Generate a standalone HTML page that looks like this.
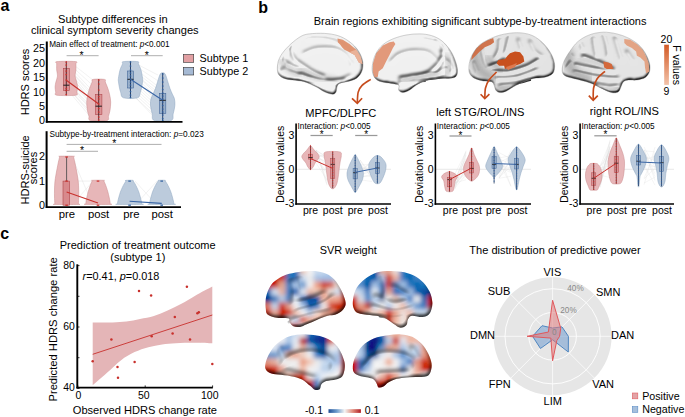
<!DOCTYPE html><html><head><meta charset="utf-8"><style>html,body{margin:0;padding:0;background:#fff;overflow:hidden}svg{display:block}</style></head><body>
<svg width="685" height="417" viewBox="0 0 685 417" font-family='"Liberation Sans", sans-serif'>
<rect width="685" height="417" fill="#fff"/>
<text x="0.5" y="10.6" font-size="16" text-anchor="start" fill="#000" font-weight="bold" >a</text>
<text x="258.3" y="12.6" font-size="16" text-anchor="start" fill="#000" font-weight="bold" >b</text>
<text x="0.3" y="239.4" font-size="16" text-anchor="start" fill="#000" font-weight="bold" >c</text>
<text x="112.8" y="23.0" font-size="11.1" text-anchor="middle" fill="#000" font-weight="normal" >Subtype differences in</text>
<text x="114.8" y="34.3" font-size="11.1" text-anchor="middle" fill="#000" font-weight="normal" >clinical symptom severity changes</text>
<line x1="72" y1="63.58" x2="94" y2="80.836" stroke="#d9d9d9" stroke-width="0.35"/>
<line x1="72" y1="66.45599999999999" x2="94" y2="86.588" stroke="#d9d9d9" stroke-width="0.35"/>
<line x1="72" y1="69.332" x2="94" y2="92.34" stroke="#d9d9d9" stroke-width="0.35"/>
<line x1="72" y1="72.208" x2="94" y2="95.216" stroke="#d9d9d9" stroke-width="0.35"/>
<line x1="72" y1="72.208" x2="94" y2="98.092" stroke="#d9d9d9" stroke-width="0.35"/>
<line x1="72" y1="75.084" x2="94" y2="100.96799999999999" stroke="#d9d9d9" stroke-width="0.35"/>
<line x1="72" y1="77.96" x2="94" y2="103.844" stroke="#d9d9d9" stroke-width="0.35"/>
<line x1="72" y1="77.96" x2="94" y2="103.844" stroke="#d9d9d9" stroke-width="0.35"/>
<line x1="72" y1="80.836" x2="94" y2="106.72" stroke="#d9d9d9" stroke-width="0.35"/>
<line x1="72" y1="83.71199999999999" x2="94" y2="106.72" stroke="#d9d9d9" stroke-width="0.35"/>
<line x1="72" y1="86.588" x2="94" y2="109.59599999999999" stroke="#d9d9d9" stroke-width="0.35"/>
<line x1="72" y1="86.588" x2="94" y2="112.472" stroke="#d9d9d9" stroke-width="0.35"/>
<line x1="72" y1="89.464" x2="94" y2="112.472" stroke="#d9d9d9" stroke-width="0.35"/>
<line x1="72" y1="92.34" x2="94" y2="115.348" stroke="#d9d9d9" stroke-width="0.35"/>
<line x1="72" y1="92.34" x2="94" y2="118.22399999999999" stroke="#d9d9d9" stroke-width="0.35"/>
<line x1="72" y1="95.216" x2="94" y2="121.1" stroke="#d9d9d9" stroke-width="0.35"/>
<line x1="136" y1="63.58" x2="158" y2="75.084" stroke="#d9d9d9" stroke-width="0.35"/>
<line x1="136" y1="66.45599999999999" x2="158" y2="80.836" stroke="#d9d9d9" stroke-width="0.35"/>
<line x1="136" y1="69.332" x2="158" y2="86.588" stroke="#d9d9d9" stroke-width="0.35"/>
<line x1="136" y1="72.208" x2="158" y2="89.464" stroke="#d9d9d9" stroke-width="0.35"/>
<line x1="136" y1="75.084" x2="158" y2="92.34" stroke="#d9d9d9" stroke-width="0.35"/>
<line x1="136" y1="75.084" x2="158" y2="95.216" stroke="#d9d9d9" stroke-width="0.35"/>
<line x1="136" y1="77.96" x2="158" y2="98.092" stroke="#d9d9d9" stroke-width="0.35"/>
<line x1="136" y1="80.836" x2="158" y2="100.96799999999999" stroke="#d9d9d9" stroke-width="0.35"/>
<line x1="136" y1="80.836" x2="158" y2="100.96799999999999" stroke="#d9d9d9" stroke-width="0.35"/>
<line x1="136" y1="83.71199999999999" x2="158" y2="103.844" stroke="#d9d9d9" stroke-width="0.35"/>
<line x1="136" y1="86.588" x2="158" y2="106.72" stroke="#d9d9d9" stroke-width="0.35"/>
<line x1="136" y1="89.464" x2="158" y2="109.59599999999999" stroke="#d9d9d9" stroke-width="0.35"/>
<line x1="136" y1="92.34" x2="158" y2="112.472" stroke="#d9d9d9" stroke-width="0.35"/>
<line x1="136" y1="95.216" x2="158" y2="115.348" stroke="#d9d9d9" stroke-width="0.35"/>
<line x1="136" y1="98.092" x2="158" y2="118.22399999999999" stroke="#d9d9d9" stroke-width="0.35"/>
<line x1="136" y1="98.092" x2="158" y2="121.1" stroke="#d9d9d9" stroke-width="0.35"/>
<path d="M75.50,61.60 C78.63,62.00 75.83,62.60 75.90,64.00 C75.97,65.40 76.03,68.00 75.90,70.00 C75.77,72.00 74.97,74.00 75.10,76.00 C75.23,78.00 76.30,80.17 76.70,82.00 C77.10,83.83 77.47,85.33 77.50,87.00 C77.53,88.67 77.20,90.63 76.90,92.00 C76.60,93.37 79.03,94.67 75.70,95.20 C72.37,95.73 60.23,95.73 56.90,95.20 C53.57,94.67 56.00,93.37 55.70,92.00 C55.40,90.63 55.07,88.67 55.10,87.00 C55.13,85.33 55.50,83.83 55.90,82.00 C56.30,80.17 57.37,78.00 57.50,76.00 C57.63,74.00 56.83,72.00 56.70,70.00 C56.57,68.00 56.63,65.40 56.70,64.00 C56.77,62.60 53.97,62.00 57.10,61.60 C60.23,61.20 72.37,61.20 75.50,61.60Z" fill="#e7b6b8" stroke="#c98a8d" stroke-width="0.5"/>
<path d="M104.50,79.40 C106.57,79.83 104.73,80.47 105.30,82.00 C105.87,83.53 107.17,86.43 107.90,88.60 C108.63,90.77 109.23,92.77 109.70,95.00 C110.17,97.23 110.65,99.43 110.70,102.00 C110.75,104.57 110.37,108.07 110.00,110.40 C109.63,112.73 109.02,114.32 108.50,116.00 C107.98,117.68 109.90,119.75 106.90,120.50 C103.90,121.25 93.50,121.25 90.50,120.50 C87.50,119.75 89.42,117.68 88.90,116.00 C88.38,114.32 87.77,112.73 87.40,110.40 C87.03,108.07 86.65,104.57 86.70,102.00 C86.75,99.43 87.23,97.23 87.70,95.00 C88.17,92.77 88.77,90.77 89.50,88.60 C90.23,86.43 91.53,83.53 92.10,82.00 C92.67,80.47 90.83,79.83 92.90,79.40 C94.97,78.97 102.43,78.97 104.50,79.40Z" fill="#e7b6b8" stroke="#c98a8d" stroke-width="0.5"/>
<path d="M137.50,61.60 C140.00,62.00 137.92,62.60 138.50,64.00 C139.08,65.40 140.32,67.58 141.00,70.00 C141.68,72.42 142.35,76.50 142.60,78.50 C142.85,80.50 142.68,80.42 142.50,82.00 C142.32,83.58 141.85,86.33 141.50,88.00 C141.15,89.67 141.05,90.37 140.40,92.00 C139.75,93.63 140.43,96.83 137.60,97.80 C134.77,98.77 126.23,98.77 123.40,97.80 C120.57,96.83 121.25,93.63 120.60,92.00 C119.95,90.37 119.85,89.67 119.50,88.00 C119.15,86.33 118.68,83.58 118.50,82.00 C118.32,80.42 118.15,80.50 118.40,78.50 C118.65,76.50 119.32,72.42 120.00,70.00 C120.68,67.58 121.92,65.40 122.50,64.00 C123.08,62.60 121.00,62.00 123.50,61.60 C126.00,61.20 135.00,61.20 137.50,61.60Z" fill="#bccbdc" stroke="#8ea6c0" stroke-width="0.5"/>
<path d="M164.30,73.10 C165.12,73.58 165.40,74.52 166.00,76.00 C166.60,77.48 167.23,79.90 167.90,82.00 C168.57,84.10 169.27,86.60 170.00,88.60 C170.73,90.60 171.57,92.33 172.30,94.00 C173.03,95.67 173.97,96.70 174.40,98.60 C174.83,100.50 175.10,102.87 174.90,105.40 C174.70,107.93 173.83,111.28 173.20,113.80 C172.57,116.32 174.25,119.38 171.10,120.50 C167.95,121.62 157.45,121.62 154.30,120.50 C151.15,119.38 152.83,116.32 152.20,113.80 C151.57,111.28 150.70,107.93 150.50,105.40 C150.30,102.87 150.57,100.50 151.00,98.60 C151.43,96.70 152.37,95.67 153.10,94.00 C153.83,92.33 154.67,90.60 155.40,88.60 C156.13,86.60 156.83,84.10 157.50,82.00 C158.17,79.90 158.80,77.48 159.40,76.00 C160.00,74.52 160.28,73.58 161.10,73.10 C161.92,72.62 163.48,72.62 164.30,73.10Z" fill="#bccbdc" stroke="#8ea6c0" stroke-width="0.5"/>
<rect x="63.3" y="68.4" width="6" height="22.19999999999999" fill="#d8898c" stroke="#b0474b" stroke-width="0.6" fill-opacity="0.8"/>
<line x1="66.3" y1="61.6" x2="66.3" y2="95.3" stroke="#4a2326" stroke-width="0.9"/>
<line x1="63.3" y1="85.2" x2="69.3" y2="85.2" stroke="#222" stroke-width="1"/>
<circle cx="66.3" cy="62" r="0.85" fill="#cc2d2a"/>
<circle cx="66.3" cy="65" r="0.85" fill="#cc2d2a"/>
<circle cx="66.3" cy="71" r="0.85" fill="#cc2d2a"/>
<circle cx="66.3" cy="74.5" r="0.85" fill="#cc2d2a"/>
<circle cx="66.3" cy="80" r="0.85" fill="#cc2d2a"/>
<circle cx="66.3" cy="88.5" r="0.85" fill="#cc2d2a"/>
<circle cx="66.3" cy="90.5" r="0.85" fill="#cc2d2a"/>
<circle cx="66.3" cy="94.5" r="0.85" fill="#cc2d2a"/>
<rect x="95.5" y="94.5" width="6.4" height="20.099999999999994" fill="#d8898c" stroke="#b0474b" stroke-width="0.6" fill-opacity="0.8"/>
<line x1="98.7" y1="79.4" x2="98.7" y2="120.5" stroke="#4a2326" stroke-width="0.9"/>
<line x1="95.5" y1="106.2" x2="101.9" y2="106.2" stroke="#222" stroke-width="1"/>
<circle cx="98.7" cy="80" r="0.85" fill="#cc2d2a"/>
<circle cx="98.7" cy="84" r="0.85" fill="#cc2d2a"/>
<circle cx="98.7" cy="90" r="0.85" fill="#cc2d2a"/>
<circle cx="98.7" cy="96.5" r="0.85" fill="#cc2d2a"/>
<circle cx="98.7" cy="99" r="0.85" fill="#cc2d2a"/>
<circle cx="98.7" cy="104" r="0.85" fill="#cc2d2a"/>
<circle cx="98.7" cy="108.5" r="0.85" fill="#cc2d2a"/>
<circle cx="98.7" cy="112" r="0.85" fill="#cc2d2a"/>
<circle cx="98.7" cy="117" r="0.85" fill="#cc2d2a"/>
<circle cx="98.7" cy="120" r="0.85" fill="#cc2d2a"/>
<rect x="127.5" y="71" width="6" height="17" fill="#8fa8c6" stroke="#44689a" stroke-width="0.6" fill-opacity="0.8"/>
<line x1="130.5" y1="61.6" x2="130.5" y2="97.8" stroke="#1e3358" stroke-width="0.9"/>
<line x1="127.5" y1="79.3" x2="133.5" y2="79.3" stroke="#222" stroke-width="1"/>
<circle cx="130.5" cy="62" r="0.85" fill="#2f5f9e"/>
<circle cx="130.5" cy="66" r="0.85" fill="#2f5f9e"/>
<circle cx="130.5" cy="70" r="0.85" fill="#2f5f9e"/>
<circle cx="130.5" cy="73" r="0.85" fill="#2f5f9e"/>
<circle cx="130.5" cy="76" r="0.85" fill="#2f5f9e"/>
<circle cx="130.5" cy="79" r="0.85" fill="#2f5f9e"/>
<circle cx="130.5" cy="82" r="0.85" fill="#2f5f9e"/>
<circle cx="130.5" cy="85" r="0.85" fill="#2f5f9e"/>
<circle cx="130.5" cy="88" r="0.85" fill="#2f5f9e"/>
<circle cx="130.5" cy="91.5" r="0.85" fill="#2f5f9e"/>
<circle cx="130.5" cy="95" r="0.85" fill="#2f5f9e"/>
<circle cx="130.5" cy="97.5" r="0.85" fill="#2f5f9e"/>
<rect x="159.6" y="93.3" width="6.2" height="20.10000000000001" fill="#8fa8c6" stroke="#44689a" stroke-width="0.6" fill-opacity="0.8"/>
<line x1="162.7" y1="73.1" x2="162.7" y2="121" stroke="#1e3358" stroke-width="0.9"/>
<line x1="159.6" y1="100.3" x2="165.79999999999998" y2="100.3" stroke="#222" stroke-width="1"/>
<circle cx="162.7" cy="74" r="0.85" fill="#2f5f9e"/>
<circle cx="162.7" cy="78" r="0.85" fill="#2f5f9e"/>
<circle cx="162.7" cy="82" r="0.85" fill="#2f5f9e"/>
<circle cx="162.7" cy="86" r="0.85" fill="#2f5f9e"/>
<circle cx="162.7" cy="89.5" r="0.85" fill="#2f5f9e"/>
<circle cx="162.7" cy="93" r="0.85" fill="#2f5f9e"/>
<circle cx="162.7" cy="96" r="0.85" fill="#2f5f9e"/>
<circle cx="162.7" cy="99" r="0.85" fill="#2f5f9e"/>
<circle cx="162.7" cy="102" r="0.85" fill="#2f5f9e"/>
<circle cx="162.7" cy="105.5" r="0.85" fill="#2f5f9e"/>
<circle cx="162.7" cy="109" r="0.85" fill="#2f5f9e"/>
<circle cx="162.7" cy="112" r="0.85" fill="#2f5f9e"/>
<circle cx="162.7" cy="115" r="0.85" fill="#2f5f9e"/>
<circle cx="162.7" cy="118.5" r="0.85" fill="#2f5f9e"/>
<circle cx="162.7" cy="120.5" r="0.85" fill="#2f5f9e"/>
<line x1="66.3" y1="80.2" x2="98.7" y2="104" stroke="#c8302c" stroke-width="1.1"/>
<line x1="130.5" y1="79.3" x2="162.7" y2="100.3" stroke="#3a66a6" stroke-width="1.1"/>
<line x1="66.6" y1="55.7" x2="98.6" y2="55.7" stroke="#999" stroke-width="0.8"/>
<line x1="131" y1="55.7" x2="162.7" y2="55.7" stroke="#999" stroke-width="0.8"/>
<text x="81.5" y="58.6" font-size="10.5" text-anchor="middle" fill="#000" font-weight="normal" >*</text>
<text x="146.8" y="58.6" font-size="10.5" text-anchor="middle" fill="#000" font-weight="normal" >*</text>
<line x1="46.8" y1="41.5" x2="46.8" y2="122.6" stroke="#000" stroke-width="2"/>
<line x1="45.8" y1="121.8" x2="182.5" y2="121.8" stroke="#000" stroke-width="1.8"/>
<text x="44.9" y="124.3" font-size="10.8" text-anchor="end" fill="#000" font-weight="normal" >0</text>
<text x="44.9" y="109.92" font-size="10.8" text-anchor="end" fill="#000" font-weight="normal" >5</text>
<text x="44.9" y="95.54" font-size="10.8" text-anchor="end" fill="#000" font-weight="normal" >10</text>
<text x="44.9" y="81.16" font-size="10.8" text-anchor="end" fill="#000" font-weight="normal" >15</text>
<text x="44.9" y="66.78" font-size="10.8" text-anchor="end" fill="#000" font-weight="normal" >20</text>
<text x="44.9" y="52.400000000000006" font-size="10.8" text-anchor="end" fill="#000" font-weight="normal" >25</text>
<text transform="translate(29.2,82) rotate(-90)" font-size="11" text-anchor="middle">HDRS scores</text>
<text x="49.3" y="46.6" font-size="8.2">Main effect of treatment: <tspan font-style="italic">p</tspan>&lt;0.001</text>
<rect x="183.3" y="54.5" width="10.4" height="7.8" fill="#e2a0a3" stroke="#333" stroke-width="0.6"/>
<rect x="183.3" y="67.4" width="10.4" height="7.6" fill="#a6bad4" stroke="#333" stroke-width="0.6"/>
<text x="199.6" y="61.8" font-size="10.8" text-anchor="start" fill="#000" font-weight="normal" >Subtype 1</text>
<text x="199.6" y="74.6" font-size="10.8" text-anchor="start" fill="#000" font-weight="normal" >Subtype 2</text>
<line x1="72" y1="157.0" x2="93" y2="205.2" stroke="#ddd" stroke-width="0.4"/>
<line x1="72" y1="181.1" x2="93" y2="181.1" stroke="#ddd" stroke-width="0.4"/>
<line x1="72" y1="205.2" x2="93" y2="181.1" stroke="#ddd" stroke-width="0.4"/>
<line x1="135" y1="181.1" x2="157" y2="205.2" stroke="#ddd" stroke-width="0.4"/>
<line x1="135" y1="205.2" x2="157" y2="181.1" stroke="#ddd" stroke-width="0.4"/>
<path d="M73.40,156.20 C75.70,156.33 73.37,156.03 73.60,157.00 C73.83,157.97 74.38,160.08 74.80,162.00 C75.22,163.92 75.68,166.33 76.10,168.50 C76.52,170.67 76.93,172.78 77.30,175.00 C77.67,177.22 78.07,179.30 78.30,181.80 C78.53,184.30 78.63,187.47 78.70,190.00 C78.77,192.53 78.75,194.73 78.70,197.00 C78.65,199.27 78.48,202.37 78.40,203.60 C78.32,204.83 82.10,204.27 78.20,204.40 C74.30,204.53 58.90,204.53 55.00,204.40 C51.10,204.27 54.88,204.83 54.80,203.60 C54.72,202.37 54.55,199.27 54.50,197.00 C54.45,194.73 54.43,192.53 54.50,190.00 C54.57,187.47 54.67,184.30 54.90,181.80 C55.13,179.30 55.53,177.22 55.90,175.00 C56.27,172.78 56.68,170.67 57.10,168.50 C57.52,166.33 57.98,163.92 58.40,162.00 C58.82,160.08 59.37,157.97 59.60,157.00 C59.83,156.03 57.50,156.33 59.80,156.20 C62.10,156.07 71.10,156.07 73.40,156.20Z" fill="#e7b6b8" stroke="#c98a8d" stroke-width="0.5"/>
<path d="M103.60,180.30 C105.52,180.42 103.63,180.38 103.90,181.00 C104.17,181.62 104.77,182.92 105.20,184.00 C105.63,185.08 106.05,186.17 106.50,187.50 C106.95,188.83 107.47,190.42 107.90,192.00 C108.33,193.58 108.77,195.50 109.10,197.00 C109.43,198.50 109.72,199.87 109.90,201.00 C110.08,202.13 110.17,203.23 110.20,203.80 C110.23,204.37 114.15,204.30 110.10,204.40 C106.05,204.50 89.95,204.50 85.90,204.40 C81.85,204.30 85.77,204.37 85.80,203.80 C85.83,203.23 85.92,202.13 86.10,201.00 C86.28,199.87 86.57,198.50 86.90,197.00 C87.23,195.50 87.67,193.58 88.10,192.00 C88.53,190.42 89.05,188.83 89.50,187.50 C89.95,186.17 90.37,185.08 90.80,184.00 C91.23,182.92 91.83,181.62 92.10,181.00 C92.37,180.38 90.48,180.42 92.40,180.30 C94.32,180.18 101.68,180.18 103.60,180.30Z" fill="#e7b6b8" stroke="#c98a8d" stroke-width="0.5"/>
<path d="M132.80,180.30 C133.93,180.42 132.82,180.38 133.20,181.00 C133.58,181.62 134.48,182.92 135.10,184.00 C135.72,185.08 136.28,186.17 136.90,187.50 C137.52,188.83 138.23,190.42 138.80,192.00 C139.37,193.58 139.88,195.50 140.30,197.00 C140.72,198.50 141.05,199.87 141.30,201.00 C141.55,202.13 141.73,203.23 141.80,203.80 C141.87,204.37 145.75,204.30 141.70,204.40 C137.65,204.50 121.55,204.50 117.50,204.40 C113.45,204.30 117.33,204.37 117.40,203.80 C117.47,203.23 117.65,202.13 117.90,201.00 C118.15,199.87 118.48,198.50 118.90,197.00 C119.32,195.50 119.83,193.58 120.40,192.00 C120.97,190.42 121.68,188.83 122.30,187.50 C122.92,186.17 123.48,185.08 124.10,184.00 C124.72,182.92 125.62,181.62 126.00,181.00 C126.38,180.38 125.27,180.42 126.40,180.30 C127.53,180.18 131.67,180.18 132.80,180.30Z" fill="#bccbdc" stroke="#8ea6c0" stroke-width="0.5"/>
<path d="M164.90,180.30 C166.03,180.42 164.92,180.38 165.30,181.00 C165.68,181.62 166.58,182.92 167.20,184.00 C167.82,185.08 168.38,186.17 169.00,187.50 C169.62,188.83 170.33,190.42 170.90,192.00 C171.47,193.58 171.98,195.50 172.40,197.00 C172.82,198.50 173.15,199.87 173.40,201.00 C173.65,202.13 173.83,203.23 173.90,203.80 C173.97,204.37 177.85,204.30 173.80,204.40 C169.75,204.50 153.65,204.50 149.60,204.40 C145.55,204.30 149.43,204.37 149.50,203.80 C149.57,203.23 149.75,202.13 150.00,201.00 C150.25,199.87 150.58,198.50 151.00,197.00 C151.42,195.50 151.93,193.58 152.50,192.00 C153.07,190.42 153.78,188.83 154.40,187.50 C155.02,186.17 155.58,185.08 156.20,184.00 C156.82,182.92 157.72,181.62 158.10,181.00 C158.48,180.38 157.37,180.42 158.50,180.30 C159.63,180.18 163.77,180.18 164.90,180.30Z" fill="#bccbdc" stroke="#8ea6c0" stroke-width="0.5"/>
<line x1="66.6" y1="157.0" x2="66.6" y2="205.2" stroke="#444" stroke-width="0.8"/>
<rect x="63" y="181.1" width="6.6" height="24.099999999999994" fill="#d8898c" stroke="#b0474b" stroke-width="0.6"/>
<rect x="65.3" y="156.4" width="2.6" height="1.2" fill="#cc2d2a"/>
<rect x="65.3" y="180.5" width="2.6" height="1.2" fill="#cc2d2a"/>
<rect x="65.3" y="204.6" width="2.6" height="1.2" fill="#cc2d2a"/>
<rect x="96.7" y="180.5" width="2.6" height="1.2" fill="#cc2d2a"/>
<rect x="96.7" y="204.6" width="2.6" height="1.2" fill="#cc2d2a"/>
<rect x="128.29999999999998" y="180.5" width="2.6" height="1.2" fill="#2f5f9e"/>
<rect x="128.29999999999998" y="204.6" width="2.6" height="1.2" fill="#2f5f9e"/>
<rect x="160.39999999999998" y="180.5" width="2.6" height="1.2" fill="#2f5f9e"/>
<rect x="160.39999999999998" y="204.6" width="2.6" height="1.2" fill="#2f5f9e"/>
<line x1="66.6" y1="192" x2="98" y2="203" stroke="#c8302c" stroke-width="1.1"/>
<line x1="129.6" y1="201.3" x2="161.7" y2="203.4" stroke="#3a66a6" stroke-width="1.1"/>
<line x1="66.6" y1="144.4" x2="161.5" y2="144.4" stroke="#999" stroke-width="0.8"/>
<line x1="66.6" y1="151.3" x2="98" y2="151.3" stroke="#999" stroke-width="0.8"/>
<text x="114.3" y="147.3" font-size="10.5" text-anchor="middle" fill="#000" font-weight="normal" >*</text>
<text x="82" y="154.2" font-size="10.5" text-anchor="middle" fill="#000" font-weight="normal" >*</text>
<line x1="46.6" y1="131.2" x2="46.6" y2="208" stroke="#000" stroke-width="2"/>
<line x1="45.8" y1="207.2" x2="181" y2="207.2" stroke="#000" stroke-width="1.8"/>
<text x="44.9" y="208.6" font-size="10.8" text-anchor="end" fill="#000" font-weight="normal" >0</text>
<text x="44.9" y="184.5" font-size="10.8" text-anchor="end" fill="#000" font-weight="normal" >1</text>
<text x="44.9" y="160.4" font-size="10.8" text-anchor="end" fill="#000" font-weight="normal" >2</text>
<text transform="translate(29.4,169.9) rotate(-90)" font-size="11" text-anchor="middle">HDRS-suicide</text>
<text transform="translate(36.8,168) rotate(-90)" font-size="11" text-anchor="middle">scores</text>
<text x="49.4" y="136.5" font-size="8.25">Subtype-by-treatment interaction: <tspan font-style="italic">p</tspan>=0.023</text>
<text x="66.8" y="217.5" font-size="11.3" text-anchor="middle" fill="#000" font-weight="normal" >pre</text>
<text x="98.6" y="217.5" font-size="11.3" text-anchor="middle" fill="#000" font-weight="normal" >post</text>
<text x="131.5" y="217.5" font-size="11.3" text-anchor="middle" fill="#000" font-weight="normal" >pre</text>
<text x="162.2" y="217.5" font-size="11.3" text-anchor="middle" fill="#000" font-weight="normal" >post</text>
<text x="480.1" y="24.6" font-size="11" text-anchor="middle" fill="#000" font-weight="normal" >Brain regions exhibiting significant subtype-by-treatment interactions</text>
<line x1="296.1" y1="169.3" x2="391" y2="169.3" stroke="#e3e3e3" stroke-width="0.8"/>
<line x1="316" y1="154.50515700216377" x2="327" y2="157.0854647179383" stroke="#dcdcdc" stroke-width="0.3"/>
<line x1="316" y1="151.56443595671652" x2="327" y2="160.36688583203147" stroke="#dcdcdc" stroke-width="0.3"/>
<line x1="316" y1="160.06588604167752" x2="327" y2="173.70529633938446" stroke="#dcdcdc" stroke-width="0.3"/>
<line x1="316" y1="150.23141687334822" x2="327" y2="184.27439510108118" stroke="#dcdcdc" stroke-width="0.3"/>
<line x1="316" y1="158.10999407321373" x2="327" y2="172.04439730437747" stroke="#dcdcdc" stroke-width="0.3"/>
<line x1="316" y1="155.21671158751394" x2="327" y2="166.09045566347575" stroke="#dcdcdc" stroke-width="0.3"/>
<line x1="316" y1="149.98598172117002" x2="327" y2="185.21641848456636" stroke="#dcdcdc" stroke-width="0.3"/>
<line x1="316" y1="157.62640746422014" x2="327" y2="154.53722846038596" stroke="#dcdcdc" stroke-width="0.3"/>
<line x1="316" y1="149.63742619351373" x2="327" y2="181.32945914860642" stroke="#dcdcdc" stroke-width="0.3"/>
<line x1="316" y1="156.37197662226055" x2="327" y2="162.55710644894532" stroke="#dcdcdc" stroke-width="0.3"/>
<line x1="316" y1="150.18754220076852" x2="327" y2="157.76041775079543" stroke="#dcdcdc" stroke-width="0.3"/>
<line x1="316" y1="150.5421212268457" x2="327" y2="156.88714385658616" stroke="#dcdcdc" stroke-width="0.3"/>
<line x1="316" y1="156.21682621542274" x2="327" y2="163.17990019536384" stroke="#dcdcdc" stroke-width="0.3"/>
<line x1="316" y1="163.05648611942465" x2="327" y2="179.93216985096103" stroke="#dcdcdc" stroke-width="0.3"/>
<line x1="360" y1="163.783244157566" x2="372" y2="177.06510755653977" stroke="#dcdcdc" stroke-width="0.3"/>
<line x1="360" y1="176.61120523719893" x2="372" y2="174.77586640950972" stroke="#dcdcdc" stroke-width="0.3"/>
<line x1="360" y1="178.44523100563788" x2="372" y2="163.85831625733167" stroke="#dcdcdc" stroke-width="0.3"/>
<line x1="360" y1="169.9167213672234" x2="372" y2="171.7861690462081" stroke="#dcdcdc" stroke-width="0.3"/>
<line x1="360" y1="175.52782290270585" x2="372" y2="170.60471609147484" stroke="#dcdcdc" stroke-width="0.3"/>
<line x1="360" y1="160.00924719914633" x2="372" y2="179.0032998937623" stroke="#dcdcdc" stroke-width="0.3"/>
<line x1="360" y1="159.90723743891945" x2="372" y2="175.5066869465412" stroke="#dcdcdc" stroke-width="0.3"/>
<line x1="360" y1="164.59067881021844" x2="372" y2="164.91050635736448" stroke="#dcdcdc" stroke-width="0.3"/>
<line x1="360" y1="179.77279914181716" x2="372" y2="181.52419633982197" stroke="#dcdcdc" stroke-width="0.3"/>
<line x1="360" y1="171.6829537814209" x2="372" y2="160.8335786781191" stroke="#dcdcdc" stroke-width="0.3"/>
<line x1="360" y1="168.05270945205734" x2="372" y2="168.03494772284546" stroke="#dcdcdc" stroke-width="0.3"/>
<line x1="360" y1="176.73797963224445" x2="372" y2="176.17138230956598" stroke="#dcdcdc" stroke-width="0.3"/>
<line x1="360" y1="172.50190004386482" x2="372" y2="161.6476288318521" stroke="#dcdcdc" stroke-width="0.3"/>
<line x1="360" y1="167.59254389963783" x2="372" y2="169.73511441141935" stroke="#dcdcdc" stroke-width="0.3"/>
<path d="M311.10,145.90 C311.80,146.58 313.10,148.82 314.10,150.00 C315.10,151.18 316.25,151.92 317.10,153.00 C317.95,154.08 319.13,155.33 319.20,156.50 C319.27,157.67 318.20,158.92 317.50,160.00 C316.80,161.08 315.67,161.93 315.00,163.00 C314.33,164.07 314.15,165.35 313.50,166.40 C312.85,167.45 311.70,168.82 311.10,169.30 C310.50,169.78 310.50,169.78 309.90,169.30 C309.30,168.82 308.15,167.45 307.50,166.40 C306.85,165.35 306.67,164.07 306.00,163.00 C305.33,161.93 304.20,161.08 303.50,160.00 C302.80,158.92 301.73,157.67 301.80,156.50 C301.87,155.33 303.05,154.08 303.90,153.00 C304.75,151.92 305.90,151.18 306.90,150.00 C307.90,148.82 309.20,146.58 309.90,145.90 C310.60,145.22 310.40,145.22 311.10,145.90Z" fill="#e7b6b8" stroke="#c98a8d" stroke-width="0.5"/>
<path d="M339.70,151.90 C342.30,152.55 341.20,154.28 341.30,155.80 C341.40,157.32 340.60,159.23 340.30,161.00 C340.00,162.77 339.75,164.57 339.50,166.40 C339.25,168.23 339.02,170.23 338.80,172.00 C338.58,173.77 338.52,175.08 338.20,177.00 C337.88,178.92 337.57,181.63 336.90,183.50 C336.23,185.37 335.15,187.42 334.20,188.20 C333.25,188.98 332.15,188.98 331.20,188.20 C330.25,187.42 329.17,185.37 328.50,183.50 C327.83,181.63 327.52,178.92 327.20,177.00 C326.88,175.08 326.82,173.77 326.60,172.00 C326.38,170.23 326.15,168.23 325.90,166.40 C325.65,164.57 325.40,162.77 325.10,161.00 C324.80,159.23 324.00,157.32 324.10,155.80 C324.20,154.28 323.10,152.55 325.70,151.90 C328.30,151.25 337.10,151.25 339.70,151.90Z" fill="#e7b6b8" stroke="#c98a8d" stroke-width="0.5"/>
<path d="M355.80,155.20 C356.45,156.00 357.55,158.13 358.50,160.00 C359.45,161.87 360.68,164.23 361.50,166.40 C362.32,168.57 363.23,170.80 363.40,173.00 C363.57,175.20 363.20,177.40 362.50,179.60 C361.80,181.80 360.32,184.12 359.20,186.20 C358.08,188.28 356.57,191.12 355.80,192.10 C355.03,193.08 355.37,193.08 354.60,192.10 C353.83,191.12 352.32,188.28 351.20,186.20 C350.08,184.12 348.60,181.80 347.90,179.60 C347.20,177.40 346.83,175.20 347.00,173.00 C347.17,170.80 348.08,168.57 348.90,166.40 C349.72,164.23 350.95,161.87 351.90,160.00 C352.85,158.13 353.95,156.00 354.60,155.20 C355.25,154.40 355.15,154.40 355.80,155.20Z" fill="#bccbdc" stroke="#8ea6c0" stroke-width="0.5"/>
<path d="M378.90,155.80 C379.92,156.17 380.85,156.68 382.00,158.00 C383.15,159.32 385.20,161.65 385.80,163.70 C386.40,165.75 386.02,168.08 385.60,170.30 C385.18,172.52 384.12,175.02 383.30,177.00 C382.48,178.98 381.48,181.10 380.70,182.20 C379.92,183.30 379.35,183.37 378.60,183.60 C377.85,183.83 376.95,183.83 376.20,183.60 C375.45,183.37 374.88,183.30 374.10,182.20 C373.32,181.10 372.32,178.98 371.50,177.00 C370.68,175.02 369.62,172.52 369.20,170.30 C368.78,168.08 368.40,165.75 369.00,163.70 C369.60,161.65 371.65,159.32 372.80,158.00 C373.95,156.68 374.88,156.17 375.90,155.80 C376.92,155.43 377.88,155.43 378.90,155.80Z" fill="#bccbdc" stroke="#8ea6c0" stroke-width="0.5"/>
<rect x="308.4" y="154.2" width="4.2" height="4.900000000000006" fill="#d8898c" stroke="#b0474b" stroke-width="0.5" fill-opacity="0.8"/>
<line x1="310.5" y1="145.9" x2="310.5" y2="169.3" stroke="#4a2326" stroke-width="0.75"/>
<line x1="308.4" y1="157.5" x2="312.6" y2="157.5" stroke="#222" stroke-width="0.8"/>
<circle cx="310.5" cy="145.9" r="0.6" fill="#cc2d2a"/>
<circle cx="310.5" cy="148.5" r="0.6" fill="#cc2d2a"/>
<circle cx="310.5" cy="151.1" r="0.6" fill="#cc2d2a"/>
<circle cx="310.5" cy="153.7" r="0.6" fill="#cc2d2a"/>
<circle cx="310.5" cy="156.3" r="0.6" fill="#cc2d2a"/>
<circle cx="310.5" cy="158.9" r="0.6" fill="#cc2d2a"/>
<circle cx="310.5" cy="161.5" r="0.6" fill="#cc2d2a"/>
<circle cx="310.5" cy="164.1" r="0.6" fill="#cc2d2a"/>
<circle cx="310.5" cy="166.7" r="0.6" fill="#cc2d2a"/>
<circle cx="310.5" cy="169.3" r="0.6" fill="#cc2d2a"/>
<rect x="330.59999999999997" y="158.5" width="4.2" height="19.80000000000001" fill="#d8898c" stroke="#b0474b" stroke-width="0.5" fill-opacity="0.8"/>
<line x1="332.7" y1="151.9" x2="332.7" y2="188.2" stroke="#4a2326" stroke-width="0.75"/>
<line x1="330.59999999999997" y1="164.4" x2="334.8" y2="164.4" stroke="#222" stroke-width="0.8"/>
<circle cx="332.7" cy="151.9" r="0.6" fill="#cc2d2a"/>
<circle cx="332.7" cy="154.5" r="0.6" fill="#cc2d2a"/>
<circle cx="332.7" cy="157.1" r="0.6" fill="#cc2d2a"/>
<circle cx="332.7" cy="159.7" r="0.6" fill="#cc2d2a"/>
<circle cx="332.7" cy="162.3" r="0.6" fill="#cc2d2a"/>
<circle cx="332.7" cy="164.9" r="0.6" fill="#cc2d2a"/>
<circle cx="332.7" cy="167.5" r="0.6" fill="#cc2d2a"/>
<circle cx="332.7" cy="170.1" r="0.6" fill="#cc2d2a"/>
<circle cx="332.7" cy="172.7" r="0.6" fill="#cc2d2a"/>
<circle cx="332.7" cy="175.3" r="0.6" fill="#cc2d2a"/>
<circle cx="332.7" cy="177.9" r="0.6" fill="#cc2d2a"/>
<circle cx="332.7" cy="180.5" r="0.6" fill="#cc2d2a"/>
<circle cx="332.7" cy="183.1" r="0.6" fill="#cc2d2a"/>
<circle cx="332.7" cy="185.7" r="0.6" fill="#cc2d2a"/>
<rect x="353.09999999999997" y="168.4" width="4.2" height="10.5" fill="#8fa8c6" stroke="#44689a" stroke-width="0.5" fill-opacity="0.8"/>
<line x1="355.2" y1="155.2" x2="355.2" y2="192.1" stroke="#1e3358" stroke-width="0.75"/>
<line x1="353.09999999999997" y1="172.7" x2="357.3" y2="172.7" stroke="#222" stroke-width="0.8"/>
<circle cx="355.2" cy="155.2" r="0.6" fill="#2f5f9e"/>
<circle cx="355.2" cy="157.8" r="0.6" fill="#2f5f9e"/>
<circle cx="355.2" cy="160.4" r="0.6" fill="#2f5f9e"/>
<circle cx="355.2" cy="163.0" r="0.6" fill="#2f5f9e"/>
<circle cx="355.2" cy="165.6" r="0.6" fill="#2f5f9e"/>
<circle cx="355.2" cy="168.2" r="0.6" fill="#2f5f9e"/>
<circle cx="355.2" cy="170.8" r="0.6" fill="#2f5f9e"/>
<circle cx="355.2" cy="173.4" r="0.6" fill="#2f5f9e"/>
<circle cx="355.2" cy="176.0" r="0.6" fill="#2f5f9e"/>
<circle cx="355.2" cy="178.6" r="0.6" fill="#2f5f9e"/>
<circle cx="355.2" cy="181.2" r="0.6" fill="#2f5f9e"/>
<circle cx="355.2" cy="183.8" r="0.6" fill="#2f5f9e"/>
<circle cx="355.2" cy="186.4" r="0.6" fill="#2f5f9e"/>
<circle cx="355.2" cy="189.0" r="0.6" fill="#2f5f9e"/>
<circle cx="355.2" cy="191.6" r="0.6" fill="#2f5f9e"/>
<rect x="375.29999999999995" y="162.4" width="4.2" height="11.199999999999989" fill="#8fa8c6" stroke="#44689a" stroke-width="0.5" fill-opacity="0.8"/>
<line x1="377.4" y1="155.8" x2="377.4" y2="183.5" stroke="#1e3358" stroke-width="0.75"/>
<line x1="375.29999999999995" y1="168" x2="379.5" y2="168" stroke="#222" stroke-width="0.8"/>
<circle cx="377.4" cy="155.8" r="0.6" fill="#2f5f9e"/>
<circle cx="377.4" cy="158.4" r="0.6" fill="#2f5f9e"/>
<circle cx="377.4" cy="161.0" r="0.6" fill="#2f5f9e"/>
<circle cx="377.4" cy="163.6" r="0.6" fill="#2f5f9e"/>
<circle cx="377.4" cy="166.2" r="0.6" fill="#2f5f9e"/>
<circle cx="377.4" cy="168.8" r="0.6" fill="#2f5f9e"/>
<circle cx="377.4" cy="171.4" r="0.6" fill="#2f5f9e"/>
<circle cx="377.4" cy="174.0" r="0.6" fill="#2f5f9e"/>
<circle cx="377.4" cy="176.6" r="0.6" fill="#2f5f9e"/>
<circle cx="377.4" cy="179.2" r="0.6" fill="#2f5f9e"/>
<circle cx="377.4" cy="181.8" r="0.6" fill="#2f5f9e"/>
<line x1="310.5" y1="158.5" x2="332.7" y2="168.4" stroke="#c8302c" stroke-width="1.0"/>
<line x1="355.2" y1="172.3" x2="377.4" y2="168" stroke="#3a66a6" stroke-width="1.0"/>
<line x1="310.5" y1="135.5" x2="332.7" y2="135.5" stroke="#999" stroke-width="1.25"/>
<text x="321.6" y="138.1" font-size="10" text-anchor="middle" fill="#000" font-weight="normal" >*</text>
<line x1="355.2" y1="135.5" x2="377.4" y2="135.5" stroke="#999" stroke-width="1.25"/>
<text x="366.29999999999995" y="138.1" font-size="10" text-anchor="middle" fill="#000" font-weight="normal" >*</text>
<line x1="296.1" y1="123.5" x2="296.1" y2="204.8" stroke="#000" stroke-width="1.6"/>
<line x1="295.3" y1="204.1" x2="391" y2="204.1" stroke="#000" stroke-width="1.5"/>
<text x="294.3" y="138.95" font-size="10.5" text-anchor="end" fill="#000" font-weight="normal" >3</text>
<text x="294.3" y="173.0" font-size="10.5" text-anchor="end" fill="#000" font-weight="normal" >0</text>
<text x="294.3" y="207.05" font-size="10.5" text-anchor="end" fill="#000" font-weight="normal" >-3</text>
<text transform="translate(283.6,164.3) rotate(-90)" font-size="10.5" text-anchor="middle">Deviation values</text>
<text x="297.5" y="128.8" font-size="8.25">Interaction: <tspan font-style="italic">p</tspan>&lt;0.005</text>
<text x="340.8" y="117.0" font-size="11.1" text-anchor="middle" fill="#000" font-weight="normal" >MPFC/DLPFC</text>
<line x1="435.4" y1="169.3" x2="531" y2="169.3" stroke="#e3e3e3" stroke-width="0.8"/>
<line x1="455" y1="173.66652336980644" x2="466" y2="151.8200828279166" stroke="#dcdcdc" stroke-width="0.3"/>
<line x1="455" y1="184.35966956108473" x2="466" y2="171.04476063913273" stroke="#dcdcdc" stroke-width="0.3"/>
<line x1="455" y1="185.99770472561784" x2="466" y2="169.41386563583006" stroke="#dcdcdc" stroke-width="0.3"/>
<line x1="455" y1="182.74144098471552" x2="466" y2="179.79287818399902" stroke="#dcdcdc" stroke-width="0.3"/>
<line x1="455" y1="187.8831228011251" x2="466" y2="174.65774359829146" stroke="#dcdcdc" stroke-width="0.3"/>
<line x1="455" y1="178.33370771841766" x2="466" y2="158.53786596282447" stroke="#dcdcdc" stroke-width="0.3"/>
<line x1="455" y1="184.82002122665222" x2="466" y2="161.57374327340133" stroke="#dcdcdc" stroke-width="0.3"/>
<line x1="455" y1="183.1042879107853" x2="466" y2="170.05958147652564" stroke="#dcdcdc" stroke-width="0.3"/>
<line x1="455" y1="182.85821847280238" x2="466" y2="150.67688784166765" stroke="#dcdcdc" stroke-width="0.3"/>
<line x1="455" y1="180.755490632124" x2="466" y2="163.85085858899296" stroke="#dcdcdc" stroke-width="0.3"/>
<line x1="455" y1="187.27945226871321" x2="466" y2="155.04145136719634" stroke="#dcdcdc" stroke-width="0.3"/>
<line x1="455" y1="189.05957861683493" x2="466" y2="153.51287383445197" stroke="#dcdcdc" stroke-width="0.3"/>
<line x1="455" y1="181.05967173613396" x2="466" y2="151.76863257993932" stroke="#dcdcdc" stroke-width="0.3"/>
<line x1="455" y1="184.29058749306947" x2="466" y2="173.04698965417563" stroke="#dcdcdc" stroke-width="0.3"/>
<line x1="499" y1="154.1388871045979" x2="511" y2="186.39378575063165" stroke="#dcdcdc" stroke-width="0.3"/>
<line x1="499" y1="157.92367467830127" x2="511" y2="155.73499442006215" stroke="#dcdcdc" stroke-width="0.3"/>
<line x1="499" y1="162.51039050026327" x2="511" y2="156.69627368263406" stroke="#dcdcdc" stroke-width="0.3"/>
<line x1="499" y1="177.88550317204158" x2="511" y2="158.81436093914235" stroke="#dcdcdc" stroke-width="0.3"/>
<line x1="499" y1="152.57860163840445" x2="511" y2="158.86677117987273" stroke="#dcdcdc" stroke-width="0.3"/>
<line x1="499" y1="164.3739968303786" x2="511" y2="168.42858375297155" stroke="#dcdcdc" stroke-width="0.3"/>
<line x1="499" y1="167.5820770926092" x2="511" y2="172.3866931418257" stroke="#dcdcdc" stroke-width="0.3"/>
<line x1="499" y1="178.2682824461284" x2="511" y2="159.98437153334444" stroke="#dcdcdc" stroke-width="0.3"/>
<line x1="499" y1="176.21695481074372" x2="511" y2="150.15555692863242" stroke="#dcdcdc" stroke-width="0.3"/>
<line x1="499" y1="177.64750303035248" x2="511" y2="165.91996704276247" stroke="#dcdcdc" stroke-width="0.3"/>
<line x1="499" y1="158.9094740644447" x2="511" y2="164.03163576999955" stroke="#dcdcdc" stroke-width="0.3"/>
<line x1="499" y1="163.28948855077437" x2="511" y2="171.5209665008429" stroke="#dcdcdc" stroke-width="0.3"/>
<line x1="499" y1="161.480677290612" x2="511" y2="186.21772116995362" stroke="#dcdcdc" stroke-width="0.3"/>
<line x1="499" y1="178.29417047034295" x2="511" y2="176.23875897116716" stroke="#dcdcdc" stroke-width="0.3"/>
<path d="M450.50,171.70 C451.55,172.02 453.65,172.73 454.80,173.60 C455.95,174.47 457.33,175.68 457.40,176.90 C457.47,178.12 455.70,179.35 455.20,180.90 C454.70,182.45 454.75,184.55 454.40,186.20 C454.05,187.85 453.75,189.88 453.10,190.80 C452.45,191.72 451.27,191.55 450.50,191.70 C449.73,191.85 449.27,191.85 448.50,191.70 C447.73,191.55 446.55,191.72 445.90,190.80 C445.25,189.88 444.95,187.85 444.60,186.20 C444.25,184.55 444.30,182.45 443.80,180.90 C443.30,179.35 441.53,178.12 441.60,176.90 C441.67,175.68 443.05,174.47 444.20,173.60 C445.35,172.73 447.45,172.02 448.50,171.70 C449.55,171.38 449.45,171.38 450.50,171.70Z" fill="#e7b6b8" stroke="#c98a8d" stroke-width="0.5"/>
<path d="M472.20,148.60 C472.73,149.58 473.47,152.63 474.20,154.50 C474.93,156.37 475.73,157.82 476.60,159.80 C477.47,161.78 478.98,164.20 479.40,166.40 C479.82,168.60 479.57,171.13 479.10,173.00 C478.63,174.87 477.68,176.28 476.60,177.60 C475.52,178.92 473.60,180.35 472.60,180.90 C471.60,181.45 471.60,181.45 470.60,180.90 C469.60,180.35 467.68,178.92 466.60,177.60 C465.52,176.28 464.57,174.87 464.10,173.00 C463.63,171.13 463.38,168.60 463.80,166.40 C464.22,164.20 465.73,161.78 466.60,159.80 C467.47,157.82 468.27,156.37 469.00,154.50 C469.73,152.63 470.47,149.58 471.00,148.60 C471.53,147.62 471.67,147.62 472.20,148.60Z" fill="#e7b6b8" stroke="#c98a8d" stroke-width="0.5"/>
<path d="M494.70,147.30 C495.35,148.28 496.45,151.12 497.40,153.20 C498.35,155.28 499.55,157.60 500.40,159.80 C501.25,162.00 502.62,164.42 502.50,166.40 C502.38,168.38 500.77,170.17 499.70,171.70 C498.63,173.23 496.93,174.63 496.10,175.60 C495.27,176.57 495.13,177.18 494.70,177.50 C494.27,177.82 493.93,177.82 493.50,177.50 C493.07,177.18 492.93,176.57 492.10,175.60 C491.27,174.63 489.57,173.23 488.50,171.70 C487.43,170.17 485.82,168.38 485.70,166.40 C485.58,164.42 486.95,162.00 487.80,159.80 C488.65,157.60 489.85,155.28 490.80,153.20 C491.75,151.12 492.85,148.28 493.50,147.30 C494.15,146.32 494.05,146.32 494.70,147.30Z" fill="#bccbdc" stroke="#8ea6c0" stroke-width="0.5"/>
<path d="M517.60,147.30 C518.70,148.28 520.93,151.12 522.20,153.20 C523.47,155.28 525.03,157.60 525.20,159.80 C525.37,162.00 523.92,164.20 523.20,166.40 C522.48,168.60 521.57,170.80 520.90,173.00 C520.23,175.20 519.70,177.40 519.20,179.60 C518.70,181.80 518.27,184.55 517.90,186.20 C517.53,187.85 517.28,188.95 517.00,189.50 C516.72,190.05 516.48,190.05 516.20,189.50 C515.92,188.95 515.67,187.85 515.30,186.20 C514.93,184.55 514.50,181.80 514.00,179.60 C513.50,177.40 512.97,175.20 512.30,173.00 C511.63,170.80 510.72,168.60 510.00,166.40 C509.28,164.20 507.83,162.00 508.00,159.80 C508.17,157.60 509.73,155.28 511.00,153.20 C512.27,151.12 514.50,148.28 515.60,147.30 C516.70,146.32 516.50,146.32 517.60,147.30Z" fill="#bccbdc" stroke="#8ea6c0" stroke-width="0.5"/>
<rect x="447.4" y="177.6" width="4.2" height="9.200000000000017" fill="#d8898c" stroke="#b0474b" stroke-width="0.5" fill-opacity="0.8"/>
<line x1="449.5" y1="171.7" x2="449.5" y2="191.7" stroke="#4a2326" stroke-width="0.75"/>
<line x1="447.4" y1="179.6" x2="451.6" y2="179.6" stroke="#222" stroke-width="0.8"/>
<circle cx="449.5" cy="171.7" r="0.6" fill="#cc2d2a"/>
<circle cx="449.5" cy="174.3" r="0.6" fill="#cc2d2a"/>
<circle cx="449.5" cy="176.9" r="0.6" fill="#cc2d2a"/>
<circle cx="449.5" cy="179.5" r="0.6" fill="#cc2d2a"/>
<circle cx="449.5" cy="182.1" r="0.6" fill="#cc2d2a"/>
<circle cx="449.5" cy="184.7" r="0.6" fill="#cc2d2a"/>
<circle cx="449.5" cy="187.3" r="0.6" fill="#cc2d2a"/>
<circle cx="449.5" cy="189.9" r="0.6" fill="#cc2d2a"/>
<rect x="469.5" y="162.4" width="4.2" height="10.599999999999994" fill="#d8898c" stroke="#b0474b" stroke-width="0.5" fill-opacity="0.8"/>
<line x1="471.6" y1="148.6" x2="471.6" y2="180.9" stroke="#4a2326" stroke-width="0.75"/>
<line x1="469.5" y1="168.4" x2="473.70000000000005" y2="168.4" stroke="#222" stroke-width="0.8"/>
<circle cx="471.6" cy="148.6" r="0.6" fill="#cc2d2a"/>
<circle cx="471.6" cy="151.2" r="0.6" fill="#cc2d2a"/>
<circle cx="471.6" cy="153.8" r="0.6" fill="#cc2d2a"/>
<circle cx="471.6" cy="156.4" r="0.6" fill="#cc2d2a"/>
<circle cx="471.6" cy="159.0" r="0.6" fill="#cc2d2a"/>
<circle cx="471.6" cy="161.6" r="0.6" fill="#cc2d2a"/>
<circle cx="471.6" cy="164.2" r="0.6" fill="#cc2d2a"/>
<circle cx="471.6" cy="166.8" r="0.6" fill="#cc2d2a"/>
<circle cx="471.6" cy="169.4" r="0.6" fill="#cc2d2a"/>
<circle cx="471.6" cy="172.0" r="0.6" fill="#cc2d2a"/>
<circle cx="471.6" cy="174.6" r="0.6" fill="#cc2d2a"/>
<circle cx="471.6" cy="177.2" r="0.6" fill="#cc2d2a"/>
<circle cx="471.6" cy="179.8" r="0.6" fill="#cc2d2a"/>
<rect x="492.0" y="156.5" width="4.2" height="11.900000000000006" fill="#8fa8c6" stroke="#44689a" stroke-width="0.5" fill-opacity="0.8"/>
<line x1="494.1" y1="147.3" x2="494.1" y2="183.5" stroke="#1e3358" stroke-width="0.75"/>
<line x1="492.0" y1="164.4" x2="496.20000000000005" y2="164.4" stroke="#222" stroke-width="0.8"/>
<circle cx="494.1" cy="147.3" r="0.6" fill="#2f5f9e"/>
<circle cx="494.1" cy="149.9" r="0.6" fill="#2f5f9e"/>
<circle cx="494.1" cy="152.5" r="0.6" fill="#2f5f9e"/>
<circle cx="494.1" cy="155.1" r="0.6" fill="#2f5f9e"/>
<circle cx="494.1" cy="157.7" r="0.6" fill="#2f5f9e"/>
<circle cx="494.1" cy="160.3" r="0.6" fill="#2f5f9e"/>
<circle cx="494.1" cy="162.9" r="0.6" fill="#2f5f9e"/>
<circle cx="494.1" cy="165.5" r="0.6" fill="#2f5f9e"/>
<circle cx="494.1" cy="168.1" r="0.6" fill="#2f5f9e"/>
<circle cx="494.1" cy="170.7" r="0.6" fill="#2f5f9e"/>
<circle cx="494.1" cy="173.3" r="0.6" fill="#2f5f9e"/>
<circle cx="494.1" cy="175.9" r="0.6" fill="#2f5f9e"/>
<circle cx="494.1" cy="178.5" r="0.6" fill="#2f5f9e"/>
<circle cx="494.1" cy="181.1" r="0.6" fill="#2f5f9e"/>
<rect x="514.5" y="158.5" width="4.2" height="10.5" fill="#8fa8c6" stroke="#44689a" stroke-width="0.5" fill-opacity="0.8"/>
<line x1="516.6" y1="147.3" x2="516.6" y2="189.5" stroke="#1e3358" stroke-width="0.75"/>
<line x1="514.5" y1="164.4" x2="518.7" y2="164.4" stroke="#222" stroke-width="0.8"/>
<circle cx="516.6" cy="147.3" r="0.6" fill="#2f5f9e"/>
<circle cx="516.6" cy="149.9" r="0.6" fill="#2f5f9e"/>
<circle cx="516.6" cy="152.5" r="0.6" fill="#2f5f9e"/>
<circle cx="516.6" cy="155.1" r="0.6" fill="#2f5f9e"/>
<circle cx="516.6" cy="157.7" r="0.6" fill="#2f5f9e"/>
<circle cx="516.6" cy="160.3" r="0.6" fill="#2f5f9e"/>
<circle cx="516.6" cy="162.9" r="0.6" fill="#2f5f9e"/>
<circle cx="516.6" cy="165.5" r="0.6" fill="#2f5f9e"/>
<circle cx="516.6" cy="168.1" r="0.6" fill="#2f5f9e"/>
<circle cx="516.6" cy="170.7" r="0.6" fill="#2f5f9e"/>
<circle cx="516.6" cy="173.3" r="0.6" fill="#2f5f9e"/>
<circle cx="516.6" cy="175.9" r="0.6" fill="#2f5f9e"/>
<circle cx="516.6" cy="178.5" r="0.6" fill="#2f5f9e"/>
<circle cx="516.6" cy="181.1" r="0.6" fill="#2f5f9e"/>
<circle cx="516.6" cy="183.7" r="0.6" fill="#2f5f9e"/>
<circle cx="516.6" cy="186.3" r="0.6" fill="#2f5f9e"/>
<circle cx="516.6" cy="188.9" r="0.6" fill="#2f5f9e"/>
<line x1="449.5" y1="179.6" x2="471.6" y2="168" stroke="#c8302c" stroke-width="1.0"/>
<line x1="494.1" y1="163.5" x2="516.6" y2="164.4" stroke="#3a66a6" stroke-width="1.0"/>
<line x1="449.5" y1="136" x2="471.5" y2="136" stroke="#999" stroke-width="1.25"/>
<text x="460.5" y="138.6" font-size="10" text-anchor="middle" fill="#000" font-weight="normal" >*</text>
<line x1="435.4" y1="123.5" x2="435.4" y2="204.8" stroke="#000" stroke-width="1.6"/>
<line x1="434.59999999999997" y1="204.1" x2="531" y2="204.1" stroke="#000" stroke-width="1.5"/>
<text x="433.59999999999997" y="138.95" font-size="10.5" text-anchor="end" fill="#000" font-weight="normal" >3</text>
<text x="433.59999999999997" y="173.0" font-size="10.5" text-anchor="end" fill="#000" font-weight="normal" >0</text>
<text x="433.59999999999997" y="207.05" font-size="10.5" text-anchor="end" fill="#000" font-weight="normal" >-3</text>
<text transform="translate(422.9,164.3) rotate(-90)" font-size="10.5" text-anchor="middle">Deviation values</text>
<text x="436.79999999999995" y="128.8" font-size="8.25">Interaction: <tspan font-style="italic">p</tspan>&lt;0.005</text>
<text x="480.3" y="116.4" font-size="11.1" text-anchor="middle" fill="#000" font-weight="normal" >left STG/ROL/INS</text>
<line x1="580.1" y1="169.3" x2="674" y2="169.3" stroke="#e3e3e3" stroke-width="0.8"/>
<line x1="600" y1="177.88728582676947" x2="610" y2="148.97681697418508" stroke="#dcdcdc" stroke-width="0.3"/>
<line x1="600" y1="180.4398187352282" x2="610" y2="146.9790370742002" stroke="#dcdcdc" stroke-width="0.3"/>
<line x1="600" y1="181.90500206123752" x2="610" y2="154.62230704599077" stroke="#dcdcdc" stroke-width="0.3"/>
<line x1="600" y1="166.34982233059475" x2="610" y2="142.26075096728147" stroke="#dcdcdc" stroke-width="0.3"/>
<line x1="600" y1="187.4883252514488" x2="610" y2="140.01003112175835" stroke="#dcdcdc" stroke-width="0.3"/>
<line x1="600" y1="184.49923726765184" x2="610" y2="146.5043920880154" stroke="#dcdcdc" stroke-width="0.3"/>
<line x1="600" y1="186.86282960336192" x2="610" y2="144.36296782497166" stroke="#dcdcdc" stroke-width="0.3"/>
<line x1="600" y1="184.94682802991414" x2="610" y2="155.63522664748655" stroke="#dcdcdc" stroke-width="0.3"/>
<line x1="600" y1="174.80947267228171" x2="610" y2="141.09653812664428" stroke="#dcdcdc" stroke-width="0.3"/>
<line x1="600" y1="174.97447080800683" x2="610" y2="177.59629222707423" stroke="#dcdcdc" stroke-width="0.3"/>
<line x1="600" y1="167.5884273427581" x2="610" y2="166.4049664749046" stroke="#dcdcdc" stroke-width="0.3"/>
<line x1="600" y1="180.85723914214273" x2="610" y2="146.38767086922834" stroke="#dcdcdc" stroke-width="0.3"/>
<line x1="600" y1="166.5561955404672" x2="610" y2="150.84708353195433" stroke="#dcdcdc" stroke-width="0.3"/>
<line x1="600" y1="166.68369039607563" x2="610" y2="154.93775048030918" stroke="#dcdcdc" stroke-width="0.3"/>
<line x1="644" y1="160.202374141603" x2="655" y2="167.13029580168498" stroke="#dcdcdc" stroke-width="0.3"/>
<line x1="644" y1="150.7908469997256" x2="655" y2="151.86410155596363" stroke="#dcdcdc" stroke-width="0.3"/>
<line x1="644" y1="179.10854013289998" x2="655" y2="167.72689703528457" stroke="#dcdcdc" stroke-width="0.3"/>
<line x1="644" y1="184.73100614648385" x2="655" y2="147.08169965688674" stroke="#dcdcdc" stroke-width="0.3"/>
<line x1="644" y1="164.17358890723742" x2="655" y2="167.12437763753226" stroke="#dcdcdc" stroke-width="0.3"/>
<line x1="644" y1="164.8695516002345" x2="655" y2="185.1400497087589" stroke="#dcdcdc" stroke-width="0.3"/>
<line x1="644" y1="149.34950180069046" x2="655" y2="180.53300121158676" stroke="#dcdcdc" stroke-width="0.3"/>
<line x1="644" y1="149.98531705317856" x2="655" y2="173.84787143631206" stroke="#dcdcdc" stroke-width="0.3"/>
<line x1="644" y1="159.36279769147706" x2="655" y2="156.44460788917448" stroke="#dcdcdc" stroke-width="0.3"/>
<line x1="644" y1="156.32551877697003" x2="655" y2="160.66799167044715" stroke="#dcdcdc" stroke-width="0.3"/>
<line x1="644" y1="178.32535974674084" x2="655" y2="152.68168138137347" stroke="#dcdcdc" stroke-width="0.3"/>
<line x1="644" y1="152.29610581053083" x2="655" y2="176.87751633608124" stroke="#dcdcdc" stroke-width="0.3"/>
<line x1="644" y1="146.90073312076467" x2="655" y2="167.30369589971517" stroke="#dcdcdc" stroke-width="0.3"/>
<line x1="644" y1="183.08843734211337" x2="655" y2="177.16219565352708" stroke="#dcdcdc" stroke-width="0.3"/>
<path d="M596.70,163.50 C597.92,163.67 597.40,163.85 598.00,164.50 C598.60,165.15 599.65,165.88 600.30,167.40 C600.95,168.92 601.70,171.53 601.90,173.60 C602.10,175.67 601.90,177.85 601.50,179.80 C601.10,181.75 600.13,183.68 599.50,185.30 C598.87,186.92 598.25,188.68 597.70,189.50 C597.15,190.32 597.28,190.08 596.20,190.20 C595.12,190.32 592.28,190.32 591.20,190.20 C590.12,190.08 590.25,190.32 589.70,189.50 C589.15,188.68 588.53,186.92 587.90,185.30 C587.27,183.68 586.30,181.75 585.90,179.80 C585.50,177.85 585.30,175.67 585.50,173.60 C585.70,171.53 586.45,168.92 587.10,167.40 C587.75,165.88 588.80,165.15 589.40,164.50 C590.00,163.85 589.48,163.67 590.70,163.50 C591.92,163.33 595.48,163.33 596.70,163.50Z" fill="#e7b6b8" stroke="#c98a8d" stroke-width="0.5"/>
<path d="M616.90,138.60 C617.58,139.77 618.80,143.13 619.80,145.60 C620.80,148.07 622.12,150.80 622.90,153.40 C623.68,156.00 624.27,158.62 624.50,161.20 C624.73,163.78 624.50,166.32 624.30,168.90 C624.10,171.48 623.80,174.43 623.30,176.70 C622.80,178.97 622.05,181.30 621.30,182.50 C620.55,183.70 620.05,183.67 618.80,183.90 C617.55,184.13 615.05,184.13 613.80,183.90 C612.55,183.67 612.05,183.70 611.30,182.50 C610.55,181.30 609.80,178.97 609.30,176.70 C608.80,174.43 608.50,171.48 608.30,168.90 C608.10,166.32 607.87,163.78 608.10,161.20 C608.33,158.62 608.92,156.00 609.70,153.40 C610.48,150.80 611.80,148.07 612.80,145.60 C613.80,143.13 615.02,139.77 615.70,138.60 C616.38,137.43 616.22,137.43 616.90,138.60Z" fill="#e7b6b8" stroke="#c98a8d" stroke-width="0.5"/>
<path d="M639.50,144.80 C640.38,145.70 641.67,148.00 642.80,150.20 C643.93,152.40 645.92,155.40 646.30,158.00 C646.68,160.60 645.90,163.20 645.10,165.80 C644.30,168.40 642.35,171.78 641.50,173.60 C640.65,175.42 640.42,174.63 640.00,176.70 C639.58,178.77 639.33,184.45 639.00,186.00 C638.67,187.55 638.33,187.55 638.00,186.00 C637.67,184.45 637.42,178.77 637.00,176.70 C636.58,174.63 636.35,175.42 635.50,173.60 C634.65,171.78 632.70,168.40 631.90,165.80 C631.10,163.20 630.32,160.60 630.70,158.00 C631.08,155.40 633.07,152.40 634.20,150.20 C635.33,148.00 636.62,145.70 637.50,144.80 C638.38,143.90 638.62,143.90 639.50,144.80Z" fill="#bccbdc" stroke="#8ea6c0" stroke-width="0.5"/>
<path d="M662.50,145.30 C663.38,146.12 664.73,148.08 665.80,150.20 C666.87,152.32 668.65,155.40 668.90,158.00 C669.15,160.60 667.82,163.20 667.30,165.80 C666.78,168.40 666.18,171.00 665.80,173.60 C665.42,176.20 665.52,179.27 665.00,181.40 C664.48,183.53 663.48,185.57 662.70,186.40 C661.92,187.23 661.08,187.23 660.30,186.40 C659.52,185.57 658.52,183.53 658.00,181.40 C657.48,179.27 657.58,176.20 657.20,173.60 C656.82,171.00 656.22,168.40 655.70,165.80 C655.18,163.20 653.85,160.60 654.10,158.00 C654.35,155.40 656.13,152.32 657.20,150.20 C658.27,148.08 659.62,146.12 660.50,145.30 C661.38,144.48 661.62,144.48 662.50,145.30Z" fill="#bccbdc" stroke="#8ea6c0" stroke-width="0.5"/>
<rect x="591.6" y="172.8" width="4.2" height="12.5" fill="#d8898c" stroke="#b0474b" stroke-width="0.5" fill-opacity="0.8"/>
<line x1="593.7" y1="163.5" x2="593.7" y2="190" stroke="#4a2326" stroke-width="0.75"/>
<line x1="591.6" y1="178.3" x2="595.8000000000001" y2="178.3" stroke="#222" stroke-width="0.8"/>
<circle cx="593.7" cy="163.5" r="0.6" fill="#cc2d2a"/>
<circle cx="593.7" cy="166.1" r="0.6" fill="#cc2d2a"/>
<circle cx="593.7" cy="168.7" r="0.6" fill="#cc2d2a"/>
<circle cx="593.7" cy="171.3" r="0.6" fill="#cc2d2a"/>
<circle cx="593.7" cy="173.9" r="0.6" fill="#cc2d2a"/>
<circle cx="593.7" cy="176.5" r="0.6" fill="#cc2d2a"/>
<circle cx="593.7" cy="179.1" r="0.6" fill="#cc2d2a"/>
<circle cx="593.7" cy="181.7" r="0.6" fill="#cc2d2a"/>
<circle cx="593.7" cy="184.3" r="0.6" fill="#cc2d2a"/>
<circle cx="593.7" cy="186.9" r="0.6" fill="#cc2d2a"/>
<circle cx="593.7" cy="189.5" r="0.6" fill="#cc2d2a"/>
<rect x="614.1999999999999" y="156.2" width="4.2" height="16.200000000000017" fill="#d8898c" stroke="#b0474b" stroke-width="0.5" fill-opacity="0.8"/>
<line x1="616.3" y1="138.6" x2="616.3" y2="183.7" stroke="#4a2326" stroke-width="0.75"/>
<line x1="614.1999999999999" y1="163.2" x2="618.4" y2="163.2" stroke="#222" stroke-width="0.8"/>
<circle cx="616.3" cy="138.6" r="0.6" fill="#cc2d2a"/>
<circle cx="616.3" cy="141.2" r="0.6" fill="#cc2d2a"/>
<circle cx="616.3" cy="143.8" r="0.6" fill="#cc2d2a"/>
<circle cx="616.3" cy="146.4" r="0.6" fill="#cc2d2a"/>
<circle cx="616.3" cy="149.0" r="0.6" fill="#cc2d2a"/>
<circle cx="616.3" cy="151.6" r="0.6" fill="#cc2d2a"/>
<circle cx="616.3" cy="154.2" r="0.6" fill="#cc2d2a"/>
<circle cx="616.3" cy="156.8" r="0.6" fill="#cc2d2a"/>
<circle cx="616.3" cy="159.4" r="0.6" fill="#cc2d2a"/>
<circle cx="616.3" cy="162.0" r="0.6" fill="#cc2d2a"/>
<circle cx="616.3" cy="164.6" r="0.6" fill="#cc2d2a"/>
<circle cx="616.3" cy="167.2" r="0.6" fill="#cc2d2a"/>
<circle cx="616.3" cy="169.8" r="0.6" fill="#cc2d2a"/>
<circle cx="616.3" cy="172.4" r="0.6" fill="#cc2d2a"/>
<circle cx="616.3" cy="175.0" r="0.6" fill="#cc2d2a"/>
<circle cx="616.3" cy="177.6" r="0.6" fill="#cc2d2a"/>
<circle cx="616.3" cy="180.2" r="0.6" fill="#cc2d2a"/>
<circle cx="616.3" cy="182.8" r="0.6" fill="#cc2d2a"/>
<rect x="636.4" y="155.7" width="4.2" height="9.300000000000011" fill="#8fa8c6" stroke="#44689a" stroke-width="0.5" fill-opacity="0.8"/>
<line x1="638.5" y1="144.8" x2="638.5" y2="186" stroke="#1e3358" stroke-width="0.75"/>
<line x1="636.4" y1="161.2" x2="640.6" y2="161.2" stroke="#222" stroke-width="0.8"/>
<circle cx="638.5" cy="144.8" r="0.6" fill="#2f5f9e"/>
<circle cx="638.5" cy="147.4" r="0.6" fill="#2f5f9e"/>
<circle cx="638.5" cy="150.0" r="0.6" fill="#2f5f9e"/>
<circle cx="638.5" cy="152.6" r="0.6" fill="#2f5f9e"/>
<circle cx="638.5" cy="155.2" r="0.6" fill="#2f5f9e"/>
<circle cx="638.5" cy="157.8" r="0.6" fill="#2f5f9e"/>
<circle cx="638.5" cy="160.4" r="0.6" fill="#2f5f9e"/>
<circle cx="638.5" cy="163.0" r="0.6" fill="#2f5f9e"/>
<circle cx="638.5" cy="165.6" r="0.6" fill="#2f5f9e"/>
<circle cx="638.5" cy="168.2" r="0.6" fill="#2f5f9e"/>
<circle cx="638.5" cy="170.8" r="0.6" fill="#2f5f9e"/>
<circle cx="638.5" cy="173.4" r="0.6" fill="#2f5f9e"/>
<circle cx="638.5" cy="176.0" r="0.6" fill="#2f5f9e"/>
<circle cx="638.5" cy="178.6" r="0.6" fill="#2f5f9e"/>
<circle cx="638.5" cy="181.2" r="0.6" fill="#2f5f9e"/>
<circle cx="638.5" cy="183.8" r="0.6" fill="#2f5f9e"/>
<rect x="659.4" y="156.5" width="4.2" height="14.800000000000011" fill="#8fa8c6" stroke="#44689a" stroke-width="0.5" fill-opacity="0.8"/>
<line x1="661.5" y1="145.3" x2="661.5" y2="186.4" stroke="#1e3358" stroke-width="0.75"/>
<line x1="659.4" y1="162.7" x2="663.6" y2="162.7" stroke="#222" stroke-width="0.8"/>
<circle cx="661.5" cy="145.3" r="0.6" fill="#2f5f9e"/>
<circle cx="661.5" cy="147.9" r="0.6" fill="#2f5f9e"/>
<circle cx="661.5" cy="150.5" r="0.6" fill="#2f5f9e"/>
<circle cx="661.5" cy="153.1" r="0.6" fill="#2f5f9e"/>
<circle cx="661.5" cy="155.7" r="0.6" fill="#2f5f9e"/>
<circle cx="661.5" cy="158.3" r="0.6" fill="#2f5f9e"/>
<circle cx="661.5" cy="160.9" r="0.6" fill="#2f5f9e"/>
<circle cx="661.5" cy="163.5" r="0.6" fill="#2f5f9e"/>
<circle cx="661.5" cy="166.1" r="0.6" fill="#2f5f9e"/>
<circle cx="661.5" cy="168.7" r="0.6" fill="#2f5f9e"/>
<circle cx="661.5" cy="171.3" r="0.6" fill="#2f5f9e"/>
<circle cx="661.5" cy="173.9" r="0.6" fill="#2f5f9e"/>
<circle cx="661.5" cy="176.5" r="0.6" fill="#2f5f9e"/>
<circle cx="661.5" cy="179.1" r="0.6" fill="#2f5f9e"/>
<circle cx="661.5" cy="181.7" r="0.6" fill="#2f5f9e"/>
<circle cx="661.5" cy="184.3" r="0.6" fill="#2f5f9e"/>
<line x1="593.7" y1="178.3" x2="616.3" y2="163.2" stroke="#c8302c" stroke-width="1.0"/>
<line x1="638.5" y1="162" x2="661.5" y2="163" stroke="#3a66a6" stroke-width="1.0"/>
<line x1="594.3" y1="135.8" x2="616.6" y2="135.8" stroke="#999" stroke-width="1.25"/>
<text x="605.45" y="138.4" font-size="10" text-anchor="middle" fill="#000" font-weight="normal" >*</text>
<line x1="580.1" y1="123.5" x2="580.1" y2="204.8" stroke="#000" stroke-width="1.6"/>
<line x1="579.3000000000001" y1="204.1" x2="674" y2="204.1" stroke="#000" stroke-width="1.5"/>
<text x="578.3000000000001" y="138.95" font-size="10.5" text-anchor="end" fill="#000" font-weight="normal" >3</text>
<text x="578.3000000000001" y="173.0" font-size="10.5" text-anchor="end" fill="#000" font-weight="normal" >0</text>
<text x="578.3000000000001" y="207.05" font-size="10.5" text-anchor="end" fill="#000" font-weight="normal" >-3</text>
<text transform="translate(567.6,164.3) rotate(-90)" font-size="10.5" text-anchor="middle">Deviation values</text>
<text x="581.5" y="128.8" font-size="8.25">Interaction: <tspan font-style="italic">p</tspan>&lt;0.005</text>
<text x="624.4" y="115.2" font-size="11.1" text-anchor="middle" fill="#000" font-weight="normal" >right ROL/INS</text>
<text x="310.5" y="213.7" font-size="10.5" text-anchor="middle" fill="#000" font-weight="normal" >pre</text>
<text x="332.8" y="213.7" font-size="10.5" text-anchor="middle" fill="#000" font-weight="normal" >post</text>
<text x="355.3" y="213.7" font-size="10.5" text-anchor="middle" fill="#000" font-weight="normal" >pre</text>
<text x="378" y="213.7" font-size="10.5" text-anchor="middle" fill="#000" font-weight="normal" >post</text>
<text x="450.4" y="213.7" font-size="10.5" text-anchor="middle" fill="#000" font-weight="normal" >pre</text>
<text x="472" y="213.7" font-size="10.5" text-anchor="middle" fill="#000" font-weight="normal" >post</text>
<text x="493.6" y="213.7" font-size="10.5" text-anchor="middle" fill="#000" font-weight="normal" >pre</text>
<text x="517.5" y="213.7" font-size="10.5" text-anchor="middle" fill="#000" font-weight="normal" >post</text>
<text x="594.2" y="213.7" font-size="10.5" text-anchor="middle" fill="#000" font-weight="normal" >pre</text>
<text x="617" y="213.7" font-size="10.5" text-anchor="middle" fill="#000" font-weight="normal" >post</text>
<text x="639" y="213.7" font-size="10.5" text-anchor="middle" fill="#000" font-weight="normal" >pre</text>
<text x="662" y="213.7" font-size="10.5" text-anchor="middle" fill="#000" font-weight="normal" >post</text>
<text x="137.7" y="249" font-size="11" text-anchor="middle" fill="#000" font-weight="normal" >Prediction of treatment outcome</text>
<text x="137.8" y="261.1" font-size="11" text-anchor="middle" fill="#000" font-weight="normal" >(subtype 1)</text>
<path d="M92.7,322.4 C96.00,322.40 106.90,322.53 112.5,322.4 C118.10,322.27 121.72,322.17 126.3,321.6 C130.88,321.03 135.40,319.93 140,319 C144.60,318.07 149.30,317.40 153.9,316 C158.50,314.60 163.02,312.63 167.6,310.6 C172.18,308.57 176.80,306.28 181.4,303.8 C186.00,301.32 190.05,298.57 195.2,295.7 C200.35,292.83 209.45,288.12 212.3,286.6 L212.3,343.3 C209.45,343.22 201.27,342.82 195.2,342.8 C189.13,342.78 181.42,342.93 175.9,343.2 C170.38,343.47 166.68,343.73 162.1,344.4 C157.52,345.07 152.98,345.92 148.4,347.2 C143.82,348.48 139.20,349.90 134.6,352.1 C130.00,354.30 125.40,356.95 120.8,360.4 C116.20,363.85 111.68,368.67 107,372.8 C102.32,376.93 95.08,383.13 92.7,385.2 Z" fill="#e4b5b7"/>
<line x1="92.7" y1="354.3" x2="212.3" y2="315" stroke="#c8302c" stroke-width="0.9"/>
<circle cx="92.7" cy="361.2" r="1.25" fill="#c8302c"/>
<circle cx="111.4" cy="339.5" r="1.25" fill="#c8302c"/>
<circle cx="117.5" cy="367" r="1.25" fill="#c8302c"/>
<circle cx="118" cy="377.8" r="1.25" fill="#c8302c"/>
<circle cx="134.6" cy="362" r="1.25" fill="#c8302c"/>
<circle cx="139" cy="291" r="1.25" fill="#c8302c"/>
<circle cx="151.1" cy="295.4" r="1.25" fill="#c8302c"/>
<circle cx="151.7" cy="336.2" r="1.25" fill="#c8302c"/>
<circle cx="172.6" cy="333.4" r="1.25" fill="#c8302c"/>
<circle cx="174.8" cy="317.1" r="1.25" fill="#c8302c"/>
<circle cx="186.9" cy="286.8" r="1.25" fill="#c8302c"/>
<circle cx="190" cy="339.5" r="1.25" fill="#c8302c"/>
<circle cx="197.4" cy="313.3" r="1.25" fill="#c8302c"/>
<circle cx="198.8" cy="312.2" r="1.25" fill="#c8302c"/>
<circle cx="212.3" cy="364" r="1.25" fill="#c8302c"/>
<line x1="77.3" y1="264.3" x2="77.3" y2="388.4" stroke="#000" stroke-width="1.9"/>
<line x1="76.4" y1="387.6" x2="212.8" y2="387.6" stroke="#000" stroke-width="1.8"/>
<line x1="77.3" y1="388.40" x2="79.5" y2="388.40" stroke="#000" stroke-width="0.8"/>
<line x1="77.3" y1="357.70" x2="79.5" y2="357.70" stroke="#000" stroke-width="0.8"/>
<line x1="77.3" y1="327.00" x2="79.5" y2="327.00" stroke="#000" stroke-width="0.8"/>
<line x1="77.3" y1="296.30" x2="79.5" y2="296.30" stroke="#000" stroke-width="0.8"/>
<line x1="77.3" y1="265.60" x2="79.5" y2="265.60" stroke="#000" stroke-width="0.8"/>
<line x1="77.80" y1="387.6" x2="77.80" y2="385.4" stroke="#000" stroke-width="0.8"/>
<line x1="145.20" y1="387.6" x2="145.20" y2="385.4" stroke="#000" stroke-width="0.8"/>
<line x1="212.60" y1="387.6" x2="212.60" y2="385.4" stroke="#000" stroke-width="0.8"/>
<text x="74.8" y="391.29999999999995" font-size="10.4" text-anchor="end" fill="#000" font-weight="normal" >40</text>
<text x="74.8" y="329.9" font-size="10.4" text-anchor="end" fill="#000" font-weight="normal" >60</text>
<text x="74.8" y="268.49999999999994" font-size="10.4" text-anchor="end" fill="#000" font-weight="normal" >80</text>
<text x="78.5" y="398.8" font-size="10.5" text-anchor="middle" fill="#000" font-weight="normal" >0</text>
<text x="143.8" y="398.8" font-size="10.5" text-anchor="middle" fill="#000" font-weight="normal" >50</text>
<text x="209.8" y="398.8" font-size="10.5" text-anchor="middle" fill="#000" font-weight="normal" >100</text>
<text x="144.9" y="413.6" font-size="11.1" text-anchor="middle" fill="#000" font-weight="normal" >Observed HDRS change rate</text>
<text transform="translate(56.6,329.4) rotate(-90)" font-size="11.2" text-anchor="middle">Predicted HDRS change rate</text>
<text x="82.5" y="279.7" font-size="10.9"><tspan font-style="italic">r</tspan>=0.41, <tspan font-style="italic">p</tspan>=0.018</text>
<text x="348.3" y="254.3" font-size="10.9" text-anchor="middle" fill="#000" font-weight="normal" >SVR weight</text>
<defs><linearGradient id="rb" x1="0" x2="1" y1="0" y2="0"><stop offset="0" stop-color="#1f4e95"/><stop offset="0.25" stop-color="#6c9acb"/><stop offset="0.5" stop-color="#f4f4f4"/><stop offset="0.75" stop-color="#e08a7a"/><stop offset="1" stop-color="#b11d24"/></linearGradient></defs>
<rect x="328.5" y="409.2" width="32.4" height="3.7" fill="url(#rb)"/>
<text x="323" y="414.4" font-size="10.5" text-anchor="end" fill="#000" font-weight="normal" >-0.1</text>
<text x="364.7" y="414.4" font-size="10.5" text-anchor="start" fill="#000" font-weight="normal" >0.1</text>
<text x="555.0" y="253.6" font-size="11.05" text-anchor="middle" fill="#000" font-weight="normal" >The distribution of predictive power</text>
<circle cx="552.6" cy="336.3" r="59" fill="#e6e6e6"/>
<circle cx="552.6" cy="336.3" r="23.8" fill="none" stroke="#fff" stroke-width="0.9"/>
<circle cx="552.6" cy="336.3" r="47.6" fill="none" stroke="#fff" stroke-width="0.9"/>
<line x1="552.6" y1="336.3" x2="552.60" y2="277.30" stroke="#fff" stroke-width="0.7"/>
<line x1="552.6" y1="336.3" x2="594.32" y2="294.58" stroke="#fff" stroke-width="0.7"/>
<line x1="552.6" y1="336.3" x2="611.60" y2="336.30" stroke="#fff" stroke-width="0.7"/>
<line x1="552.6" y1="336.3" x2="594.32" y2="378.02" stroke="#fff" stroke-width="0.7"/>
<line x1="552.6" y1="336.3" x2="552.60" y2="395.30" stroke="#fff" stroke-width="0.7"/>
<line x1="552.6" y1="336.3" x2="510.88" y2="378.02" stroke="#fff" stroke-width="0.7"/>
<line x1="552.6" y1="336.3" x2="493.60" y2="336.30" stroke="#fff" stroke-width="0.7"/>
<line x1="552.6" y1="336.3" x2="510.88" y2="294.58" stroke="#fff" stroke-width="0.7"/>
<polygon points="552.60,328.00 562.00,326.90 568.40,336.30 568.30,352.00 552.60,339.80 540.44,348.46 532.60,336.30 541.99,325.69" fill="#6f9bcd" fill-opacity="0.55" stroke="#4f86c0" stroke-width="1"/>
<polygon points="552.60,300.30 560.73,328.17 559.60,336.30 556.84,340.54 552.60,360.80 550.83,338.07 527.10,336.30 548.36,332.06" fill="#e07b7e" fill-opacity="0.55" stroke="#e0585c" stroke-width="1"/>
<text x="567.3" y="290.7" font-size="8.2" text-anchor="start" fill="#888" font-weight="normal" >40%</text>
<text x="560.3" y="313.3" font-size="8.2" text-anchor="start" fill="#888" font-weight="normal" >20%</text>
<text x="554.2" y="335.2" font-size="8.2" text-anchor="middle" fill="#888" font-weight="normal" >0</text>
<text x="552.4" y="275.8" font-size="11" text-anchor="middle" fill="#000" font-weight="normal" >VIS</text>
<text x="596" y="295.8" font-size="11" text-anchor="start" fill="#000" font-weight="normal" >SMN</text>
<text x="611" y="339" font-size="11" text-anchor="start" fill="#000" font-weight="normal" >DAN</text>
<text x="592.2" y="387.8" font-size="11" text-anchor="start" fill="#000" font-weight="normal" >VAN</text>
<text x="552.7" y="405" font-size="11" text-anchor="middle" fill="#000" font-weight="normal" >LIM</text>
<text x="488.8" y="387.8" font-size="11" text-anchor="start" fill="#000" font-weight="normal" >FPN</text>
<text x="470" y="339" font-size="11" text-anchor="start" fill="#000" font-weight="normal" >DMN</text>
<text x="487.7" y="294.8" font-size="11" text-anchor="start" fill="#000" font-weight="normal" >SUB</text>
<rect x="632.3" y="393" width="5.5" height="5.8" fill="#e3a3a6" stroke="#e06065" stroke-width="0.6"/>
<rect x="632.3" y="406.6" width="5.5" height="5.8" fill="#a6bfdc" stroke="#5b8dc5" stroke-width="0.6"/>
<text x="642.2" y="399.6" font-size="10.7" text-anchor="start" fill="#000" font-weight="normal" >Positive</text>
<text x="642.2" y="412.9" font-size="10.7" text-anchor="start" fill="#000" font-weight="normal" >Negative</text>
<defs><filter id="bl1" x="-20%" y="-20%" width="140%" height="140%"><feGaussianBlur stdDeviation="1"/></filter><filter id="bl2" x="-20%" y="-20%" width="140%" height="140%"><feGaussianBlur stdDeviation="2"/></filter><filter id="bl3" x="-20%" y="-20%" width="140%" height="140%"><feGaussianBlur stdDeviation="3"/></filter><filter id="bl06" x="-20%" y="-20%" width="140%" height="140%"><feGaussianBlur stdDeviation="0.6"/></filter></defs>
<defs><filter id="lit" x="-5%" y="-5%" width="110%" height="110%" color-interpolation-filters="sRGB"><feColorMatrix in="SourceGraphic" type="matrix" values="0 0 0 0 0  0 0 0 0 0  0 0 0 0 0  1 0 0 0 0" result="h"/><feGaussianBlur in="h" stdDeviation="1.8" result="b"/><feDiffuseLighting in="b" surfaceScale="2.4" diffuseConstant="1.3" lighting-color="#fff" result="l"><feDistantLight azimuth="245" elevation="50"/></feDiffuseLighting><feComposite in="l" in2="SourceAlpha" operator="in"/></filter></defs>
<defs><filter id="lit2" x="-5%" y="-5%" width="110%" height="110%" color-interpolation-filters="sRGB"><feColorMatrix in="SourceGraphic" type="matrix" values="0 0 0 0 0  0 0 0 0 0  0 0 0 0 0  1 0 0 0 0" result="h"/><feGaussianBlur in="h" stdDeviation="2.1" result="b"/><feDiffuseLighting in="b" surfaceScale="2.4" diffuseConstant="1.3" lighting-color="#fff" result="l"><feDistantLight azimuth="245" elevation="50"/></feDiffuseLighting><feComposite in="l" in2="SourceAlpha" operator="in"/></filter></defs>
<defs><clipPath id="bc1"><path d="M277.40,70.00 C277.27,67.77 277.37,64.40 278.20,61.60 C279.03,58.80 280.30,56.13 282.40,53.20 C284.50,50.27 287.72,46.80 290.80,44.00 C293.88,41.20 297.82,38.08 300.90,36.40 C303.98,34.72 305.38,34.40 309.30,33.90 C313.22,33.40 319.65,33.12 324.40,33.40 C329.15,33.68 333.88,34.40 337.80,35.60 C341.72,36.80 344.82,38.52 347.90,40.60 C350.98,42.68 354.07,45.45 356.30,48.10 C358.53,50.75 360.18,53.70 361.30,56.50 C362.42,59.30 363.00,62.23 363.00,64.90 C363.00,67.57 362.42,70.25 361.30,72.50 C360.18,74.75 358.53,76.92 356.30,78.40 C354.07,79.88 350.70,80.57 347.90,81.40 C345.10,82.23 341.32,82.50 339.50,83.40 C337.68,84.30 337.57,85.40 337.00,86.80 C336.43,88.20 336.80,90.55 336.10,91.80 C335.40,93.05 334.75,94.30 332.80,94.30 C330.85,94.30 327.20,93.05 324.40,91.80 C321.60,90.55 319.37,88.48 316.00,86.80 C312.63,85.12 308.12,82.83 304.20,81.70 C300.28,80.57 295.85,80.55 292.50,80.00 C289.15,79.45 286.35,79.23 284.10,78.40 C281.85,77.57 280.12,76.40 279.00,75.00 C277.88,73.60 277.53,72.23 277.40,70.00Z"/></clipPath></defs>
<g style="isolation:isolate">
<g clip-path="url(#bc1)">
<path d="M277.40,70.00 C277.27,67.77 277.37,64.40 278.20,61.60 C279.03,58.80 280.30,56.13 282.40,53.20 C284.50,50.27 287.72,46.80 290.80,44.00 C293.88,41.20 297.82,38.08 300.90,36.40 C303.98,34.72 305.38,34.40 309.30,33.90 C313.22,33.40 319.65,33.12 324.40,33.40 C329.15,33.68 333.88,34.40 337.80,35.60 C341.72,36.80 344.82,38.52 347.90,40.60 C350.98,42.68 354.07,45.45 356.30,48.10 C358.53,50.75 360.18,53.70 361.30,56.50 C362.42,59.30 363.00,62.23 363.00,64.90 C363.00,67.57 362.42,70.25 361.30,72.50 C360.18,74.75 358.53,76.92 356.30,78.40 C354.07,79.88 350.70,80.57 347.90,81.40 C345.10,82.23 341.32,82.50 339.50,83.40 C337.68,84.30 337.57,85.40 337.00,86.80 C336.43,88.20 336.80,90.55 336.10,91.80 C335.40,93.05 334.75,94.30 332.80,94.30 C330.85,94.30 327.20,93.05 324.40,91.80 C321.60,90.55 319.37,88.48 316.00,86.80 C312.63,85.12 308.12,82.83 304.20,81.70 C300.28,80.57 295.85,80.55 292.50,80.00 C289.15,79.45 286.35,79.23 284.10,78.40 C281.85,77.57 280.12,76.40 279.00,75.00 C277.88,73.60 277.53,72.23 277.40,70.00Z" fill="#f1f1f1"/>
<path d="M300.00,70.00 C302.50,71.00 309.17,74.33 315.00,76.00 C320.83,77.67 331.67,79.33 335.00,80.00" fill="none" stroke="#a8a8a8" stroke-width="6" stroke-opacity="0.55" stroke-linecap="round" filter="url(#bl2)"/>
<path d="M282.00,62.00 C283.33,63.33 287.33,68.00 290.00,70.00 C292.67,72.00 296.67,73.33 298.00,74.00" fill="none" stroke="#b0b0b0" stroke-width="6" stroke-opacity="0.5" stroke-linecap="round" filter="url(#bl2)"/>
</g>
<g filter="url(#lit)" style="mix-blend-mode:multiply" opacity="1.0">
<path d="M277.40,70.00 C277.27,67.77 277.37,64.40 278.20,61.60 C279.03,58.80 280.30,56.13 282.40,53.20 C284.50,50.27 287.72,46.80 290.80,44.00 C293.88,41.20 297.82,38.08 300.90,36.40 C303.98,34.72 305.38,34.40 309.30,33.90 C313.22,33.40 319.65,33.12 324.40,33.40 C329.15,33.68 333.88,34.40 337.80,35.60 C341.72,36.80 344.82,38.52 347.90,40.60 C350.98,42.68 354.07,45.45 356.30,48.10 C358.53,50.75 360.18,53.70 361.30,56.50 C362.42,59.30 363.00,62.23 363.00,64.90 C363.00,67.57 362.42,70.25 361.30,72.50 C360.18,74.75 358.53,76.92 356.30,78.40 C354.07,79.88 350.70,80.57 347.90,81.40 C345.10,82.23 341.32,82.50 339.50,83.40 C337.68,84.30 337.57,85.40 337.00,86.80 C336.43,88.20 336.80,90.55 336.10,91.80 C335.40,93.05 334.75,94.30 332.80,94.30 C330.85,94.30 327.20,93.05 324.40,91.80 C321.60,90.55 319.37,88.48 316.00,86.80 C312.63,85.12 308.12,82.83 304.20,81.70 C300.28,80.57 295.85,80.55 292.50,80.00 C289.15,79.45 286.35,79.23 284.10,78.40 C281.85,77.57 280.12,76.40 279.00,75.00 C277.88,73.60 277.53,72.23 277.40,70.00Z" fill="#ff0000"/>
<path d="M295.80,41.40 C295.10,42.52 292.15,45.85 291.60,48.10 C291.05,50.35 291.80,52.80 292.50,54.90 C293.20,57.00 295.25,59.73 295.80,60.70" fill="none" stroke="rgb(76,0,0)" stroke-width="2.0" stroke-linecap="round" stroke-linejoin="round"/>
<path d="M297.50,61.60 C300.02,63.27 308.12,69.08 312.60,71.60 C317.08,74.12 322.43,75.85 324.40,76.70" fill="none" stroke="rgb(126,0,0)" stroke-width="2.2" stroke-linecap="round" stroke-linejoin="round"/>
<path d="M284.00,68.00 C286.00,69.00 291.67,72.17 296.00,74.00 C300.33,75.83 307.67,78.17 310.00,79.00" fill="none" stroke="rgb(151,0,0)" stroke-width="2" stroke-linecap="round" stroke-linejoin="round"/>
<path d="M307.60,38.10 C309.67,38.08 315.80,37.58 320.00,38.00 C324.20,38.42 328.63,39.10 332.80,40.60 C336.97,42.10 341.65,44.35 345.00,47.00 C348.35,49.65 351.58,54.92 352.90,56.50" fill="none" stroke="rgb(192,0,0)" stroke-width="1.6" stroke-linecap="round" stroke-linejoin="round"/>
<path d="M304.20,53.20 C305.83,52.50 310.63,49.85 314.00,49.00 C317.37,48.15 320.73,48.10 324.40,48.10 C328.07,48.10 332.65,48.15 336.00,49.00 C339.35,49.85 342.17,51.37 344.50,53.20 C346.83,55.03 348.60,57.77 350.00,60.00 C351.40,62.23 352.42,65.50 352.90,66.60" fill="none" stroke="rgb(167,0,0)" stroke-width="1.6" stroke-linecap="round" stroke-linejoin="round"/>
<path d="M318.00,80.00 C320.00,80.33 326.33,82.00 330.00,82.00 C333.67,82.00 336.67,81.00 340.00,80.00 C343.33,79.00 348.33,76.67 350.00,76.00" fill="none" stroke="rgb(175,0,0)" stroke-width="2" stroke-linecap="round" stroke-linejoin="round"/>
<path d="M283.00,60.00 C284.50,61.00 289.17,64.67 292.00,66.00 C294.83,67.33 298.67,67.67 300.00,68.00" fill="none" stroke="rgb(134,0,0)" stroke-width="1.6" stroke-linecap="round" stroke-linejoin="round"/>
<path d="M281.00,70.00 C282.83,70.83 290.17,74.17 292.00,75.00" fill="none" stroke="rgb(142,0,0)" stroke-width="1.6" stroke-linecap="round" stroke-linejoin="round"/>
<path d="M310.00,82.00 C312.00,82.50 318.00,84.33 322.00,85.00 C326.00,85.67 332.00,85.83 334.00,86.00" fill="none" stroke="rgb(134,0,0)" stroke-width="1.8" stroke-linecap="round" stroke-linejoin="round"/>
<path d="M300.00,74.00 C302.50,74.83 310.00,77.83 315.00,79.00 C320.00,80.17 325.00,80.83 330.00,81.00 C335.00,81.17 342.50,80.17 345.00,80.00" fill="none" stroke="rgb(101,0,0)" stroke-width="2.0" stroke-linecap="round" stroke-linejoin="round"/>
<path d="M287.00,50.00 C286.50,51.33 283.83,55.33 284.00,58.00 C284.17,60.67 287.33,64.67 288.00,66.00" fill="none" stroke="rgb(117,0,0)" stroke-width="1.6" stroke-linecap="round" stroke-linejoin="round"/>
</g>
</g>
<g clip-path="url(#bc1)">
<path d="M337.50,38.40 L342.80,39.80 L349.50,43.90 L356.30,49.80 L360.50,56.50 L362.60,64.10 L358.80,62.40 L354.60,54.90 L349.50,52.30 L344.50,49.80 L342.00,47.30 L340.30,44.80 L337.80,42.30Z" fill="#de8f6c" fill-opacity="0.95"/>
<path d="M349.50,52.30 L354.60,54.90 L358.80,62.40 L362.60,64.10 L360.50,56.50 L356.30,49.80 L352.00,51.00Z" fill="#ebb59c" fill-opacity="0.9"/>
</g>
<path d="M277.40,70.00 C277.27,67.77 277.37,64.40 278.20,61.60 C279.03,58.80 280.30,56.13 282.40,53.20 C284.50,50.27 287.72,46.80 290.80,44.00 C293.88,41.20 297.82,38.08 300.90,36.40 C303.98,34.72 305.38,34.40 309.30,33.90 C313.22,33.40 319.65,33.12 324.40,33.40 C329.15,33.68 333.88,34.40 337.80,35.60 C341.72,36.80 344.82,38.52 347.90,40.60 C350.98,42.68 354.07,45.45 356.30,48.10 C358.53,50.75 360.18,53.70 361.30,56.50 C362.42,59.30 363.00,62.23 363.00,64.90 C363.00,67.57 362.42,70.25 361.30,72.50 C360.18,74.75 358.53,76.92 356.30,78.40 C354.07,79.88 350.70,80.57 347.90,81.40 C345.10,82.23 341.32,82.50 339.50,83.40 C337.68,84.30 337.57,85.40 337.00,86.80 C336.43,88.20 336.80,90.55 336.10,91.80 C335.40,93.05 334.75,94.30 332.80,94.30 C330.85,94.30 327.20,93.05 324.40,91.80 C321.60,90.55 319.37,88.48 316.00,86.80 C312.63,85.12 308.12,82.83 304.20,81.70 C300.28,80.57 295.85,80.55 292.50,80.00 C289.15,79.45 286.35,79.23 284.10,78.40 C281.85,77.57 280.12,76.40 279.00,75.00 C277.88,73.60 277.53,72.23 277.40,70.00Z" fill="none" stroke="#8a8a8a" stroke-width="0.5" stroke-opacity="0.8"/>
<defs><clipPath id="bc2"><path d="M372.40,71.60 C371.98,69.08 372.08,66.37 372.70,63.30 C373.32,60.23 374.42,56.28 376.10,53.20 C377.78,50.12 380.00,47.18 382.80,44.80 C385.60,42.42 388.98,40.53 392.90,38.90 C396.82,37.27 401.83,35.83 406.30,35.00 C410.77,34.17 415.50,33.80 419.70,33.90 C423.90,34.00 427.87,34.48 431.50,35.60 C435.13,36.72 438.43,38.23 441.50,40.60 C444.57,42.97 447.65,46.58 449.90,49.80 C452.15,53.02 453.73,56.53 455.00,59.90 C456.27,63.27 457.37,67.20 457.50,70.00 C457.63,72.80 457.33,75.30 455.80,76.70 C454.27,78.10 451.52,78.12 448.30,78.40 C445.08,78.68 440.42,77.98 436.50,78.40 C432.58,78.82 428.15,79.78 424.80,80.90 C421.45,82.02 418.93,83.57 416.40,85.10 C413.87,86.63 411.85,88.85 409.60,90.10 C407.35,91.35 404.72,92.60 402.90,92.60 C401.08,92.60 399.40,91.35 398.70,90.10 C398.00,88.85 399.95,86.22 398.70,85.10 C397.45,83.98 394.13,83.97 391.20,83.40 C388.27,82.83 383.77,82.53 381.10,81.70 C378.43,80.87 376.65,80.08 375.20,78.40 C373.75,76.72 372.82,74.12 372.40,71.60Z"/></clipPath></defs>
<g style="isolation:isolate">
<g clip-path="url(#bc2)">
<path d="M372.40,71.60 C371.98,69.08 372.08,66.37 372.70,63.30 C373.32,60.23 374.42,56.28 376.10,53.20 C377.78,50.12 380.00,47.18 382.80,44.80 C385.60,42.42 388.98,40.53 392.90,38.90 C396.82,37.27 401.83,35.83 406.30,35.00 C410.77,34.17 415.50,33.80 419.70,33.90 C423.90,34.00 427.87,34.48 431.50,35.60 C435.13,36.72 438.43,38.23 441.50,40.60 C444.57,42.97 447.65,46.58 449.90,49.80 C452.15,53.02 453.73,56.53 455.00,59.90 C456.27,63.27 457.37,67.20 457.50,70.00 C457.63,72.80 457.33,75.30 455.80,76.70 C454.27,78.10 451.52,78.12 448.30,78.40 C445.08,78.68 440.42,77.98 436.50,78.40 C432.58,78.82 428.15,79.78 424.80,80.90 C421.45,82.02 418.93,83.57 416.40,85.10 C413.87,86.63 411.85,88.85 409.60,90.10 C407.35,91.35 404.72,92.60 402.90,92.60 C401.08,92.60 399.40,91.35 398.70,90.10 C398.00,88.85 399.95,86.22 398.70,85.10 C397.45,83.98 394.13,83.97 391.20,83.40 C388.27,82.83 383.77,82.53 381.10,81.70 C378.43,80.87 376.65,80.08 375.20,78.40 C373.75,76.72 372.82,74.12 372.40,71.60Z" fill="#f1f1f1"/>
<path d="M402.00,80.00 C405.00,79.50 414.33,78.17 420.00,77.00 C425.67,75.83 433.33,73.67 436.00,73.00" fill="none" stroke="#a8a8a8" stroke-width="6" stroke-opacity="0.55" stroke-linecap="round" filter="url(#bl2)"/>
<path d="M446.00,56.00 C446.67,57.67 450.00,63.00 450.00,66.00 C450.00,69.00 446.67,72.67 446.00,74.00" fill="none" stroke="#b0b0b0" stroke-width="6" stroke-opacity="0.5" stroke-linecap="round" filter="url(#bl2)"/>
</g>
<g filter="url(#lit)" style="mix-blend-mode:multiply" opacity="1.0">
<path d="M372.40,71.60 C371.98,69.08 372.08,66.37 372.70,63.30 C373.32,60.23 374.42,56.28 376.10,53.20 C377.78,50.12 380.00,47.18 382.80,44.80 C385.60,42.42 388.98,40.53 392.90,38.90 C396.82,37.27 401.83,35.83 406.30,35.00 C410.77,34.17 415.50,33.80 419.70,33.90 C423.90,34.00 427.87,34.48 431.50,35.60 C435.13,36.72 438.43,38.23 441.50,40.60 C444.57,42.97 447.65,46.58 449.90,49.80 C452.15,53.02 453.73,56.53 455.00,59.90 C456.27,63.27 457.37,67.20 457.50,70.00 C457.63,72.80 457.33,75.30 455.80,76.70 C454.27,78.10 451.52,78.12 448.30,78.40 C445.08,78.68 440.42,77.98 436.50,78.40 C432.58,78.82 428.15,79.78 424.80,80.90 C421.45,82.02 418.93,83.57 416.40,85.10 C413.87,86.63 411.85,88.85 409.60,90.10 C407.35,91.35 404.72,92.60 402.90,92.60 C401.08,92.60 399.40,91.35 398.70,90.10 C398.00,88.85 399.95,86.22 398.70,85.10 C397.45,83.98 394.13,83.97 391.20,83.40 C388.27,82.83 383.77,82.53 381.10,81.70 C378.43,80.87 376.65,80.08 375.20,78.40 C373.75,76.72 372.82,74.12 372.40,71.60Z" fill="#ff0000"/>
<path d="M436.50,39.80 C437.62,41.18 442.22,45.32 443.20,48.10 C444.18,50.88 443.23,53.97 442.40,56.50 C441.57,59.03 438.90,62.17 438.20,63.30" fill="none" stroke="rgb(84,0,0)" stroke-width="2.0" stroke-linecap="round" stroke-linejoin="round"/>
<path d="M438.20,64.10 C436.80,65.35 433.43,69.50 429.80,71.60 C426.17,73.70 418.63,75.85 416.40,76.70" fill="none" stroke="rgb(126,0,0)" stroke-width="2.2" stroke-linecap="round" stroke-linejoin="round"/>
<path d="M391.20,39.80 C393.50,39.33 400.80,37.43 405.00,37.00 C409.20,36.57 411.15,36.47 416.40,37.20 C421.65,37.93 433.15,40.70 436.50,41.40" fill="none" stroke="rgb(192,0,0)" stroke-width="1.6" stroke-linecap="round" stroke-linejoin="round"/>
<path d="M391.20,61.60 C392.33,60.50 395.20,56.68 398.00,55.00 C400.80,53.32 404.33,52.17 408.00,51.50 C411.67,50.83 416.37,50.72 420.00,51.00 C423.63,51.28 426.77,51.43 429.80,53.20 C432.83,54.97 436.80,60.20 438.20,61.60" fill="none" stroke="rgb(167,0,0)" stroke-width="1.6" stroke-linecap="round" stroke-linejoin="round"/>
<path d="M400.00,81.70 C402.50,81.42 410.00,80.45 415.00,80.00 C420.00,79.55 425.00,79.50 430.00,79.00 C435.00,78.50 442.50,77.33 445.00,77.00" fill="none" stroke="rgb(175,0,0)" stroke-width="2" stroke-linecap="round" stroke-linejoin="round"/>
<path d="M446.00,60.00 C447.00,61.33 451.33,65.67 452.00,68.00 C452.67,70.33 450.33,73.00 450.00,74.00" fill="none" stroke="rgb(159,0,0)" stroke-width="1.5" stroke-linecap="round" stroke-linejoin="round"/>
<path d="M440.00,62.00 C441.17,63.33 445.00,67.67 447.00,70.00 C449.00,72.33 451.17,75.00 452.00,76.00" fill="none" stroke="rgb(134,0,0)" stroke-width="1.6" stroke-linecap="round" stroke-linejoin="round"/>
<path d="M400.00,83.00 C402.00,82.83 407.83,82.33 412.00,82.00 C416.17,81.67 422.83,81.17 425.00,81.00" fill="none" stroke="rgb(134,0,0)" stroke-width="1.8" stroke-linecap="round" stroke-linejoin="round"/>
<path d="M400.40,78.40 C403.07,77.97 410.38,76.65 416.40,75.80 C422.42,74.95 431.47,74.55 436.50,73.30 C441.53,72.05 444.92,69.13 446.60,68.30" fill="none" stroke="rgb(93,0,0)" stroke-width="2.2" stroke-linecap="round" stroke-linejoin="round"/>
<path d="M441.50,51.50 C442.07,53.18 445.17,58.52 444.90,61.60 C444.63,64.68 440.73,68.60 439.90,70.00" fill="none" stroke="rgb(109,0,0)" stroke-width="1.8" stroke-linecap="round" stroke-linejoin="round"/>
<path d="M448.30,61.60 C449.13,63.27 452.47,69.93 453.30,71.60" fill="none" stroke="rgb(117,0,0)" stroke-width="1.6" stroke-linecap="round" stroke-linejoin="round"/>
</g>
</g>
<g clip-path="url(#bc2)">
<path d="M393.70,41.40 L395.40,43.90 L392.90,48.10 L389.50,54.90 L386.10,61.60 L382.80,68.30 L378.60,71.60 L377.80,76.70 L374.40,77.50 L372.70,71.60 L373.00,63.30 L376.10,53.20 L382.80,45.60 L389.50,42.30Z" fill="#e09474" fill-opacity="0.95"/>
</g>
<path d="M372.40,71.60 C371.98,69.08 372.08,66.37 372.70,63.30 C373.32,60.23 374.42,56.28 376.10,53.20 C377.78,50.12 380.00,47.18 382.80,44.80 C385.60,42.42 388.98,40.53 392.90,38.90 C396.82,37.27 401.83,35.83 406.30,35.00 C410.77,34.17 415.50,33.80 419.70,33.90 C423.90,34.00 427.87,34.48 431.50,35.60 C435.13,36.72 438.43,38.23 441.50,40.60 C444.57,42.97 447.65,46.58 449.90,49.80 C452.15,53.02 453.73,56.53 455.00,59.90 C456.27,63.27 457.37,67.20 457.50,70.00 C457.63,72.80 457.33,75.30 455.80,76.70 C454.27,78.10 451.52,78.12 448.30,78.40 C445.08,78.68 440.42,77.98 436.50,78.40 C432.58,78.82 428.15,79.78 424.80,80.90 C421.45,82.02 418.93,83.57 416.40,85.10 C413.87,86.63 411.85,88.85 409.60,90.10 C407.35,91.35 404.72,92.60 402.90,92.60 C401.08,92.60 399.40,91.35 398.70,90.10 C398.00,88.85 399.95,86.22 398.70,85.10 C397.45,83.98 394.13,83.97 391.20,83.40 C388.27,82.83 383.77,82.53 381.10,81.70 C378.43,80.87 376.65,80.08 375.20,78.40 C373.75,76.72 372.82,74.12 372.40,71.60Z" fill="none" stroke="#8a8a8a" stroke-width="0.5" stroke-opacity="0.8"/>
<defs><clipPath id="bc3"><path d="M468.90,70.00 C468.75,67.77 469.00,64.40 469.70,61.60 C470.40,58.80 471.42,56.00 473.10,53.20 C474.78,50.40 477.00,47.18 479.80,44.80 C482.60,42.42 486.27,40.58 489.90,38.90 C493.53,37.22 497.13,35.73 501.60,34.70 C506.07,33.67 511.95,32.70 516.70,32.70 C521.45,32.70 526.18,33.38 530.10,34.70 C534.02,36.02 537.12,38.08 540.20,40.60 C543.28,43.12 546.35,46.58 548.60,49.80 C550.85,53.02 552.72,56.82 553.70,59.90 C554.68,62.98 554.78,65.92 554.50,68.30 C554.22,70.68 553.82,72.67 552.00,74.20 C550.18,75.73 546.68,76.80 543.60,77.50 C540.52,78.20 536.87,77.70 533.50,78.40 C530.13,79.10 526.75,80.30 523.40,81.70 C520.05,83.10 516.20,85.25 513.40,86.80 C510.60,88.35 508.85,90.03 506.60,91.00 C504.35,91.97 501.72,92.75 499.90,92.60 C498.08,92.45 496.67,91.35 495.70,90.10 C494.73,88.85 494.80,86.50 494.10,85.10 C493.40,83.70 493.33,82.40 491.50,81.70 C489.67,81.00 485.88,81.45 483.10,80.90 C480.32,80.35 476.88,79.38 474.80,78.40 C472.72,77.42 471.58,76.40 470.60,75.00 C469.62,73.60 469.05,72.23 468.90,70.00Z"/></clipPath></defs>
<g style="isolation:isolate">
<g clip-path="url(#bc3)">
<path d="M468.90,70.00 C468.75,67.77 469.00,64.40 469.70,61.60 C470.40,58.80 471.42,56.00 473.10,53.20 C474.78,50.40 477.00,47.18 479.80,44.80 C482.60,42.42 486.27,40.58 489.90,38.90 C493.53,37.22 497.13,35.73 501.60,34.70 C506.07,33.67 511.95,32.70 516.70,32.70 C521.45,32.70 526.18,33.38 530.10,34.70 C534.02,36.02 537.12,38.08 540.20,40.60 C543.28,43.12 546.35,46.58 548.60,49.80 C550.85,53.02 552.72,56.82 553.70,59.90 C554.68,62.98 554.78,65.92 554.50,68.30 C554.22,70.68 553.82,72.67 552.00,74.20 C550.18,75.73 546.68,76.80 543.60,77.50 C540.52,78.20 536.87,77.70 533.50,78.40 C530.13,79.10 526.75,80.30 523.40,81.70 C520.05,83.10 516.20,85.25 513.40,86.80 C510.60,88.35 508.85,90.03 506.60,91.00 C504.35,91.97 501.72,92.75 499.90,92.60 C498.08,92.45 496.67,91.35 495.70,90.10 C494.73,88.85 494.80,86.50 494.10,85.10 C493.40,83.70 493.33,82.40 491.50,81.70 C489.67,81.00 485.88,81.45 483.10,80.90 C480.32,80.35 476.88,79.38 474.80,78.40 C472.72,77.42 471.58,76.40 470.60,75.00 C469.62,73.60 469.05,72.23 468.90,70.00Z" fill="#e4e4e4"/>
<path d="M474.00,50.00 C474.33,52.00 474.67,58.33 476.00,62.00 C477.33,65.67 479.33,69.50 482.00,72.00 C484.67,74.50 490.33,76.17 492.00,77.00" fill="none" stroke="#8c8c8c" stroke-width="10" stroke-opacity="0.6" stroke-linecap="round" filter="url(#bl3)"/>
<path d="M498.00,88.00 C500.00,88.00 506.00,88.67 510.00,88.00 C514.00,87.33 520.00,84.67 522.00,84.00" fill="none" stroke="#909090" stroke-width="5" stroke-opacity="0.6" stroke-linecap="round" filter="url(#bl2)"/>
<path d="M488.00,58.00 C489.00,59.00 492.00,62.00 494.00,64.00 C496.00,66.00 499.00,69.00 500.00,70.00" fill="none" stroke="#a0a0a0" stroke-width="6" stroke-opacity="0.6" stroke-linecap="round" filter="url(#bl2)"/>
</g>
<g filter="url(#lit)" style="mix-blend-mode:multiply" opacity="1.0">
<path d="M468.90,70.00 C468.75,67.77 469.00,64.40 469.70,61.60 C470.40,58.80 471.42,56.00 473.10,53.20 C474.78,50.40 477.00,47.18 479.80,44.80 C482.60,42.42 486.27,40.58 489.90,38.90 C493.53,37.22 497.13,35.73 501.60,34.70 C506.07,33.67 511.95,32.70 516.70,32.70 C521.45,32.70 526.18,33.38 530.10,34.70 C534.02,36.02 537.12,38.08 540.20,40.60 C543.28,43.12 546.35,46.58 548.60,49.80 C550.85,53.02 552.72,56.82 553.70,59.90 C554.68,62.98 554.78,65.92 554.50,68.30 C554.22,70.68 553.82,72.67 552.00,74.20 C550.18,75.73 546.68,76.80 543.60,77.50 C540.52,78.20 536.87,77.70 533.50,78.40 C530.13,79.10 526.75,80.30 523.40,81.70 C520.05,83.10 516.20,85.25 513.40,86.80 C510.60,88.35 508.85,90.03 506.60,91.00 C504.35,91.97 501.72,92.75 499.90,92.60 C498.08,92.45 496.67,91.35 495.70,90.10 C494.73,88.85 494.80,86.50 494.10,85.10 C493.40,83.70 493.33,82.40 491.50,81.70 C489.67,81.00 485.88,81.45 483.10,80.90 C480.32,80.35 476.88,79.38 474.80,78.40 C472.72,77.42 471.58,76.40 470.60,75.00 C469.62,73.60 469.05,72.23 468.90,70.00Z" fill="#ff0000"/>
<path d="M488.20,67.50 C489.60,66.93 493.80,65.23 496.60,64.10 C499.40,62.97 503.60,61.27 505.00,60.70" fill="none" stroke="rgb(76,0,0)" stroke-width="2.6" stroke-linecap="round" stroke-linejoin="round"/>
<path d="M491.50,70.80 C492.92,71.00 496.92,71.87 500.00,72.00 C503.08,72.13 505.53,72.50 510.00,71.60 C514.47,70.70 522.05,68.55 526.80,66.60 C531.55,64.65 536.55,61.02 538.50,59.90" fill="none" stroke="rgb(93,0,0)" stroke-width="2.4" stroke-linecap="round" stroke-linejoin="round"/>
<path d="M496.60,78.40 C498.50,78.33 504.37,78.28 508.00,78.00 C511.63,77.72 513.58,78.03 518.40,76.70 C523.22,75.37 533.82,71.12 536.90,70.00" fill="none" stroke="rgb(126,0,0)" stroke-width="2.0" stroke-linecap="round" stroke-linejoin="round"/>
<path d="M481.50,48.10 C482.05,50.35 483.68,58.23 484.80,61.60 C485.92,64.97 487.63,67.18 488.20,68.30" fill="none" stroke="rgb(117,0,0)" stroke-width="2.0" stroke-linecap="round" stroke-linejoin="round"/>
<path d="M473.10,61.60 C473.93,63.55 477.27,71.35 478.10,73.30" fill="none" stroke="rgb(126,0,0)" stroke-width="2.0" stroke-linecap="round" stroke-linejoin="round"/>
<path d="M499.90,38.10 C499.77,40.05 499.93,46.45 499.10,49.80 C498.27,53.15 495.60,56.80 494.90,58.20" fill="none" stroke="rgb(117,0,0)" stroke-width="1.8" stroke-linecap="round" stroke-linejoin="round"/>
<path d="M510.00,34.70 C509.43,36.93 507.43,45.02 506.60,48.10 C505.77,51.18 505.27,52.35 505.00,53.20" fill="none" stroke="rgb(117,0,0)" stroke-width="1.8" stroke-linecap="round" stroke-linejoin="round"/>
<path d="M518.40,39.80 C518.97,41.47 521.23,48.13 521.80,49.80" fill="none" stroke="rgb(134,0,0)" stroke-width="1.6" stroke-linecap="round" stroke-linejoin="round"/>
<path d="M530.10,41.40 C530.95,43.08 533.23,48.98 535.20,51.50 C537.17,54.02 540.78,55.67 541.90,56.50" fill="none" stroke="rgb(134,0,0)" stroke-width="1.6" stroke-linecap="round" stroke-linejoin="round"/>
<path d="M500.00,86.00 C502.50,85.67 510.00,85.00 515.00,84.00 C520.00,83.00 527.50,80.67 530.00,80.00" fill="none" stroke="rgb(142,0,0)" stroke-width="2.2" stroke-linecap="round" stroke-linejoin="round"/>
<path d="M476.00,50.00 C475.17,51.33 471.83,56.67 471.00,58.00" fill="none" stroke="rgb(142,0,0)" stroke-width="2.5" stroke-linecap="round" stroke-linejoin="round"/>
</g>
</g>
<g clip-path="url(#bc3)">
<path d="M493.20,38.10 L494.10,42.30 L490.70,44.80 L484.80,47.30 L479.80,51.50 L476.40,54.90 L473.10,58.20 L471.10,59.90 L472.20,54.90 L476.40,48.10 L483.10,42.30 L488.20,39.80Z" fill="#cf6e44" fill-opacity="0.95"/>
<path d="M510.00,53.20 L515.00,51.50 L520.10,52.30 L523.40,56.50 L524.30,61.60 L520.10,64.10 L515.00,65.80 L510.00,67.40 L505.00,69.10 L504.10,65.80 L499.10,65.80 L496.60,63.30 L498.30,59.90 L505.00,59.10 L507.50,55.70Z" fill="#c8501e" fill-opacity="1.0"/>
<path d="M506.00,67.00 L512.00,65.00 L517.00,63.00 L515.00,67.00 L508.00,70.00Z" fill="#dd7a50" fill-opacity="1.0"/>
</g>
<path d="M468.90,70.00 C468.75,67.77 469.00,64.40 469.70,61.60 C470.40,58.80 471.42,56.00 473.10,53.20 C474.78,50.40 477.00,47.18 479.80,44.80 C482.60,42.42 486.27,40.58 489.90,38.90 C493.53,37.22 497.13,35.73 501.60,34.70 C506.07,33.67 511.95,32.70 516.70,32.70 C521.45,32.70 526.18,33.38 530.10,34.70 C534.02,36.02 537.12,38.08 540.20,40.60 C543.28,43.12 546.35,46.58 548.60,49.80 C550.85,53.02 552.72,56.82 553.70,59.90 C554.68,62.98 554.78,65.92 554.50,68.30 C554.22,70.68 553.82,72.67 552.00,74.20 C550.18,75.73 546.68,76.80 543.60,77.50 C540.52,78.20 536.87,77.70 533.50,78.40 C530.13,79.10 526.75,80.30 523.40,81.70 C520.05,83.10 516.20,85.25 513.40,86.80 C510.60,88.35 508.85,90.03 506.60,91.00 C504.35,91.97 501.72,92.75 499.90,92.60 C498.08,92.45 496.67,91.35 495.70,90.10 C494.73,88.85 494.80,86.50 494.10,85.10 C493.40,83.70 493.33,82.40 491.50,81.70 C489.67,81.00 485.88,81.45 483.10,80.90 C480.32,80.35 476.88,79.38 474.80,78.40 C472.72,77.42 471.58,76.40 470.60,75.00 C469.62,73.60 469.05,72.23 468.90,70.00Z" fill="none" stroke="#8a8a8a" stroke-width="0.5" stroke-opacity="0.8"/>
<defs><clipPath id="bc4"><path d="M562.20,70.00 C562.20,67.77 562.63,64.68 563.90,61.60 C565.17,58.52 567.43,54.87 569.80,51.50 C572.17,48.13 574.75,44.20 578.10,41.40 C581.45,38.60 585.70,36.23 589.90,34.70 C594.10,33.17 598.82,32.33 603.30,32.20 C607.78,32.07 612.60,32.92 616.80,33.90 C621.00,34.88 624.87,36.28 628.50,38.10 C632.13,39.92 635.80,42.28 638.60,44.80 C641.40,47.32 643.48,50.12 645.30,53.20 C647.12,56.28 648.80,60.23 649.50,63.30 C650.20,66.37 650.20,69.23 649.50,71.60 C648.80,73.97 647.40,76.10 645.30,77.50 C643.20,78.90 639.70,79.58 636.90,80.00 C634.10,80.42 630.73,79.72 628.50,80.00 C626.27,80.28 624.75,80.57 623.50,81.70 C622.25,82.83 621.85,85.12 621.00,86.80 C620.15,88.48 619.95,90.83 618.40,91.80 C616.85,92.77 614.50,93.17 611.70,92.60 C608.90,92.03 604.95,89.93 601.60,88.40 C598.25,86.87 595.23,84.80 591.60,83.40 C587.97,82.00 583.43,80.98 579.80,80.00 C576.17,79.02 572.45,78.33 569.80,77.50 C567.15,76.67 565.17,76.25 563.90,75.00 C562.63,73.75 562.20,72.23 562.20,70.00Z"/></clipPath></defs>
<g style="isolation:isolate">
<g clip-path="url(#bc4)">
<path d="M562.20,70.00 C562.20,67.77 562.63,64.68 563.90,61.60 C565.17,58.52 567.43,54.87 569.80,51.50 C572.17,48.13 574.75,44.20 578.10,41.40 C581.45,38.60 585.70,36.23 589.90,34.70 C594.10,33.17 598.82,32.33 603.30,32.20 C607.78,32.07 612.60,32.92 616.80,33.90 C621.00,34.88 624.87,36.28 628.50,38.10 C632.13,39.92 635.80,42.28 638.60,44.80 C641.40,47.32 643.48,50.12 645.30,53.20 C647.12,56.28 648.80,60.23 649.50,63.30 C650.20,66.37 650.20,69.23 649.50,71.60 C648.80,73.97 647.40,76.10 645.30,77.50 C643.20,78.90 639.70,79.58 636.90,80.00 C634.10,80.42 630.73,79.72 628.50,80.00 C626.27,80.28 624.75,80.57 623.50,81.70 C622.25,82.83 621.85,85.12 621.00,86.80 C620.15,88.48 619.95,90.83 618.40,91.80 C616.85,92.77 614.50,93.17 611.70,92.60 C608.90,92.03 604.95,89.93 601.60,88.40 C598.25,86.87 595.23,84.80 591.60,83.40 C587.97,82.00 583.43,80.98 579.80,80.00 C576.17,79.02 572.45,78.33 569.80,77.50 C567.15,76.67 565.17,76.25 563.90,75.00 C562.63,73.75 562.20,72.23 562.20,70.00Z" fill="#e5e5e5"/>
<path d="M568.00,52.00 C568.17,54.00 567.67,60.33 569.00,64.00 C570.33,67.67 572.83,71.33 576.00,74.00 C579.17,76.67 586.00,79.00 588.00,80.00" fill="none" stroke="#8c8c8c" stroke-width="10" stroke-opacity="0.6" stroke-linecap="round" filter="url(#bl3)"/>
<path d="M600.00,90.00 C602.00,90.33 608.67,92.33 612.00,92.00 C615.33,91.67 618.67,88.67 620.00,88.00" fill="none" stroke="#a0a0a0" stroke-width="5" stroke-opacity="0.6" stroke-linecap="round" filter="url(#bl2)"/>
<path d="M580.00,60.00 C582.50,60.33 590.00,60.67 595.00,62.00 C600.00,63.33 607.50,67.00 610.00,68.00" fill="none" stroke="#c0c0c0" stroke-width="5" stroke-opacity="0.6" stroke-linecap="round" filter="url(#bl2)"/>
</g>
<g filter="url(#lit)" style="mix-blend-mode:multiply" opacity="1.0">
<path d="M562.20,70.00 C562.20,67.77 562.63,64.68 563.90,61.60 C565.17,58.52 567.43,54.87 569.80,51.50 C572.17,48.13 574.75,44.20 578.10,41.40 C581.45,38.60 585.70,36.23 589.90,34.70 C594.10,33.17 598.82,32.33 603.30,32.20 C607.78,32.07 612.60,32.92 616.80,33.90 C621.00,34.88 624.87,36.28 628.50,38.10 C632.13,39.92 635.80,42.28 638.60,44.80 C641.40,47.32 643.48,50.12 645.30,53.20 C647.12,56.28 648.80,60.23 649.50,63.30 C650.20,66.37 650.20,69.23 649.50,71.60 C648.80,73.97 647.40,76.10 645.30,77.50 C643.20,78.90 639.70,79.58 636.90,80.00 C634.10,80.42 630.73,79.72 628.50,80.00 C626.27,80.28 624.75,80.57 623.50,81.70 C622.25,82.83 621.85,85.12 621.00,86.80 C620.15,88.48 619.95,90.83 618.40,91.80 C616.85,92.77 614.50,93.17 611.70,92.60 C608.90,92.03 604.95,89.93 601.60,88.40 C598.25,86.87 595.23,84.80 591.60,83.40 C587.97,82.00 583.43,80.98 579.80,80.00 C576.17,79.02 572.45,78.33 569.80,77.50 C567.15,76.67 565.17,76.25 563.90,75.00 C562.63,73.75 562.20,72.23 562.20,70.00Z" fill="#ff0000"/>
<path d="M613.40,70.00 C611.17,68.83 605.03,65.25 600.00,63.00 C594.97,60.75 586.00,57.58 583.20,56.50" fill="none" stroke="rgb(76,0,0)" stroke-width="2.6" stroke-linecap="round" stroke-linejoin="round"/>
<path d="M613.40,71.60 C609.77,71.05 598.03,69.42 591.60,68.30 C585.17,67.18 577.60,65.47 574.80,64.90" fill="none" stroke="rgb(93,0,0)" stroke-width="2.2" stroke-linecap="round" stroke-linejoin="round"/>
<path d="M618.40,78.40 C614.77,78.12 603.87,77.83 596.60,76.70 C589.33,75.57 578.43,72.45 574.80,71.60" fill="none" stroke="rgb(117,0,0)" stroke-width="2.0" stroke-linecap="round" stroke-linejoin="round"/>
<path d="M603.30,33.00 C603.87,34.97 605.85,40.88 606.70,44.80 C607.55,48.72 608.12,54.55 608.40,56.50" fill="none" stroke="rgb(109,0,0)" stroke-width="1.8" stroke-linecap="round" stroke-linejoin="round"/>
<path d="M593.30,36.40 C593.57,38.35 594.35,44.75 594.90,48.10 C595.45,51.45 596.32,55.10 596.60,56.50" fill="none" stroke="rgb(109,0,0)" stroke-width="1.8" stroke-linecap="round" stroke-linejoin="round"/>
<path d="M579.80,41.40 C580.37,42.80 582.63,48.40 583.20,49.80" fill="none" stroke="rgb(117,0,0)" stroke-width="1.8" stroke-linecap="round" stroke-linejoin="round"/>
<path d="M568.10,51.50 C568.93,52.62 572.27,57.08 573.10,58.20" fill="none" stroke="rgb(117,0,0)" stroke-width="1.8" stroke-linecap="round" stroke-linejoin="round"/>
<path d="M571.40,61.60 C570.57,62.72 567.23,67.18 566.40,68.30" fill="none" stroke="rgb(117,0,0)" stroke-width="1.8" stroke-linecap="round" stroke-linejoin="round"/>
<path d="M615.10,38.10 C615.65,40.05 617.28,46.17 618.40,49.80 C619.52,53.43 621.23,58.22 621.80,59.90" fill="none" stroke="rgb(126,0,0)" stroke-width="1.6" stroke-linecap="round" stroke-linejoin="round"/>
<path d="M626.80,51.50 C627.92,53.18 632.38,59.92 633.50,61.60" fill="none" stroke="rgb(134,0,0)" stroke-width="1.6" stroke-linecap="round" stroke-linejoin="round"/>
<path d="M595.00,84.00 C597.17,84.50 604.17,86.67 608.00,87.00 C611.83,87.33 616.33,86.17 618.00,86.00" fill="none" stroke="rgb(142,0,0)" stroke-width="2.2" stroke-linecap="round" stroke-linejoin="round"/>
</g>
</g>
<g clip-path="url(#bc4)">
<path d="M624.30,38.90 L630.20,39.80 L636.90,43.90 L642.80,49.80 L646.10,56.50 L648.70,63.30 L649.50,71.60 L646.10,73.30 L645.00,67.40 L644.50,61.60 L640.30,57.40 L636.90,55.70 L636.10,51.50 L631.90,48.10 L626.80,45.60 L624.30,43.10Z" fill="#e3a07f" fill-opacity="0.95"/>
<path d="M603.30,61.60 L608.40,62.40 L611.70,64.10 L613.40,69.10 L606.70,69.10 L604.20,67.40Z" fill="#d4693c" fill-opacity="1.0"/>
</g>
<path d="M562.20,70.00 C562.20,67.77 562.63,64.68 563.90,61.60 C565.17,58.52 567.43,54.87 569.80,51.50 C572.17,48.13 574.75,44.20 578.10,41.40 C581.45,38.60 585.70,36.23 589.90,34.70 C594.10,33.17 598.82,32.33 603.30,32.20 C607.78,32.07 612.60,32.92 616.80,33.90 C621.00,34.88 624.87,36.28 628.50,38.10 C632.13,39.92 635.80,42.28 638.60,44.80 C641.40,47.32 643.48,50.12 645.30,53.20 C647.12,56.28 648.80,60.23 649.50,63.30 C650.20,66.37 650.20,69.23 649.50,71.60 C648.80,73.97 647.40,76.10 645.30,77.50 C643.20,78.90 639.70,79.58 636.90,80.00 C634.10,80.42 630.73,79.72 628.50,80.00 C626.27,80.28 624.75,80.57 623.50,81.70 C622.25,82.83 621.85,85.12 621.00,86.80 C620.15,88.48 619.95,90.83 618.40,91.80 C616.85,92.77 614.50,93.17 611.70,92.60 C608.90,92.03 604.95,89.93 601.60,88.40 C598.25,86.87 595.23,84.80 591.60,83.40 C587.97,82.00 583.43,80.98 579.80,80.00 C576.17,79.02 572.45,78.33 569.80,77.50 C567.15,76.67 565.17,76.25 563.90,75.00 C562.63,73.75 562.20,72.23 562.20,70.00Z" fill="none" stroke="#8a8a8a" stroke-width="0.5" stroke-opacity="0.8"/>
<path d="M370.70,79.40 C369.27,80.40 364.18,83.28 362.10,85.40 C360.02,87.52 359.00,89.17 358.20,92.10 C357.40,95.03 357.45,101.18 357.30,103.00" fill="none" stroke="#c64b1c" stroke-width="1.65"/>
<path d="M352,98.3 L357.3,103.4 L362.1,98.3" fill="none" stroke="#c64b1c" stroke-width="1.65" stroke-linejoin="miter"/>
<path d="M496.60,72.00 C495.33,73.33 490.85,77.33 489.00,80.00 C487.15,82.67 486.20,85.00 485.50,88.00 C484.80,91.00 484.92,96.33 484.80,98.00" fill="none" stroke="#c64b1c" stroke-width="1.65"/>
<path d="M480.6,94.2 L484.8,98.6 L489.4,94.2" fill="none" stroke="#c64b1c" stroke-width="1.65" stroke-linejoin="miter"/>
<path d="M605.00,71.30 C603.67,72.58 598.90,76.22 597.00,79.00 C595.10,81.78 594.23,84.58 593.60,88.00 C592.97,91.42 593.27,97.58 593.20,99.50" fill="none" stroke="#c64b1c" stroke-width="1.65"/>
<path d="M588.8,95.6 L593.2,100.2 L597.8,95.6" fill="none" stroke="#c64b1c" stroke-width="1.65" stroke-linejoin="miter"/>
<defs><linearGradient id="fg" x1="0" x2="0" y1="0" y2="1"><stop offset="0" stop-color="#d35a25"/><stop offset="1" stop-color="#f2c2a9"/></linearGradient></defs>
<rect x="664.2" y="44.7" width="4.7" height="40.2" fill="url(#fg)"/>
<text x="666.4" y="42.6" font-size="10.5" text-anchor="middle" fill="#000" font-weight="normal" >20</text>
<text x="666.4" y="95.1" font-size="10.5" text-anchor="middle" fill="#000" font-weight="normal" >9</text>
<text transform="translate(672.5,65.1) rotate(90)" font-size="10.5" text-anchor="middle">F values</text>
<defs><filter id="gb" x="-10%" y="-10%" width="120%" height="120%"><feGaussianBlur stdDeviation="2.5"/><feComponentTransfer><feFuncR type="linear" slope="1.12" intercept="-0.06"/><feFuncG type="linear" slope="1.12" intercept="-0.06"/><feFuncB type="linear" slope="1.12" intercept="-0.06"/></feComponentTransfer></filter></defs>
<defs><clipPath id="bc5"><path d="M265.50,301.90 C265.67,299.38 265.78,296.83 266.80,293.90 C267.82,290.97 269.45,286.98 271.60,284.30 C273.75,281.62 276.75,279.55 279.70,277.80 C282.65,276.05 285.57,274.87 289.30,273.80 C293.03,272.73 297.82,271.85 302.10,271.40 C306.38,270.95 310.98,270.70 315.00,271.10 C319.02,271.50 322.98,272.40 326.20,273.80 C329.42,275.20 331.88,276.95 334.30,279.50 C336.72,282.05 338.97,285.90 340.70,289.10 C342.43,292.30 343.90,296.03 344.70,298.70 C345.50,301.37 345.92,303.13 345.50,305.10 C345.08,307.07 343.85,308.93 342.20,310.50 C340.55,312.07 338.02,313.62 335.60,314.50 C333.18,315.38 330.77,314.93 327.70,315.80 C324.63,316.67 320.70,318.28 317.20,319.70 C313.70,321.12 309.55,323.10 306.70,324.30 C303.85,325.50 302.30,326.57 300.10,326.90 C297.90,327.23 295.25,327.07 293.50,326.30 C291.75,325.53 290.38,323.58 289.60,322.30 C288.82,321.02 290.07,319.32 288.80,318.60 C287.53,317.88 284.28,318.18 282.00,318.00 C279.72,317.82 277.55,318.13 275.10,317.50 C272.65,316.87 268.85,315.62 267.30,314.20 C265.75,312.78 266.10,311.05 265.80,309.00 C265.50,306.95 265.33,304.42 265.50,301.90Z"/></clipPath></defs>
<g style="isolation:isolate">
<g clip-path="url(#bc5)">
<g filter="url(#gb)">
<rect x="261.5" y="264.5" width="10.05" height="10.05" fill="#c84a42"/>
<rect x="271.5" y="264.5" width="7.05" height="10.05" fill="#c84a42"/>
<rect x="278.5" y="264.5" width="7.05" height="10.05" fill="#c84a42"/>
<rect x="285.5" y="264.5" width="7.05" height="10.05" fill="#4a78b8"/>
<rect x="292.5" y="264.5" width="7.05" height="10.05" fill="#4a78b8"/>
<rect x="299.5" y="264.5" width="7.05" height="10.05" fill="#e8c4b4"/>
<rect x="306.5" y="264.5" width="7.05" height="10.05" fill="#f0f0f0"/>
<rect x="313.5" y="264.5" width="7.05" height="10.05" fill="#c8d8ea"/>
<rect x="320.5" y="264.5" width="7.05" height="10.05" fill="#c8d8ea"/>
<rect x="327.5" y="264.5" width="7.05" height="10.05" fill="#a0bce0"/>
<rect x="334.5" y="264.5" width="7.05" height="10.05" fill="#a0bce0"/>
<rect x="341.5" y="264.5" width="10.05" height="10.05" fill="#a0bce0"/>
<rect x="261.5" y="274.5" width="10.05" height="7.05" fill="#c03a35"/>
<rect x="271.5" y="274.5" width="7.05" height="7.05" fill="#c03a35"/>
<rect x="278.5" y="274.5" width="7.05" height="7.05" fill="#c84a42"/>
<rect x="285.5" y="274.5" width="7.05" height="7.05" fill="#4a78b8"/>
<rect x="292.5" y="274.5" width="7.05" height="7.05" fill="#3f6fb3"/>
<rect x="299.5" y="274.5" width="7.05" height="7.05" fill="#c8d8ea"/>
<rect x="306.5" y="274.5" width="7.05" height="7.05" fill="#e8e8e8"/>
<rect x="313.5" y="274.5" width="7.05" height="7.05" fill="#a8c0e0"/>
<rect x="320.5" y="274.5" width="7.05" height="7.05" fill="#a0bce0"/>
<rect x="327.5" y="274.5" width="7.05" height="7.05" fill="#a0bce0"/>
<rect x="334.5" y="274.5" width="7.05" height="7.05" fill="#c8d8ea"/>
<rect x="341.5" y="274.5" width="10.05" height="7.05" fill="#c8d8ea"/>
<rect x="261.5" y="281.5" width="10.05" height="7.05" fill="#c03a35"/>
<rect x="271.5" y="281.5" width="7.05" height="7.05" fill="#c03a35"/>
<rect x="278.5" y="281.5" width="7.05" height="7.05" fill="#e0a890"/>
<rect x="285.5" y="281.5" width="7.05" height="7.05" fill="#5585c2"/>
<rect x="292.5" y="281.5" width="7.05" height="7.05" fill="#b0c8e4"/>
<rect x="299.5" y="281.5" width="7.05" height="7.05" fill="#6a95c8"/>
<rect x="306.5" y="281.5" width="7.05" height="7.05" fill="#f0f0f0"/>
<rect x="313.5" y="281.5" width="7.05" height="7.05" fill="#e8a088"/>
<rect x="320.5" y="281.5" width="7.05" height="7.05" fill="#c84a40"/>
<rect x="327.5" y="281.5" width="7.05" height="7.05" fill="#d06050"/>
<rect x="334.5" y="281.5" width="7.05" height="7.05" fill="#e8d8d0"/>
<rect x="341.5" y="281.5" width="10.05" height="7.05" fill="#e8d8d0"/>
<rect x="261.5" y="288.5" width="10.05" height="7.05" fill="#3a6aad"/>
<rect x="271.5" y="288.5" width="7.05" height="7.05" fill="#d0dff0"/>
<rect x="278.5" y="288.5" width="7.05" height="7.05" fill="#e2b0a0"/>
<rect x="285.5" y="288.5" width="7.05" height="7.05" fill="#4e80bf"/>
<rect x="292.5" y="288.5" width="7.05" height="7.05" fill="#3060a8"/>
<rect x="299.5" y="288.5" width="7.05" height="7.05" fill="#dde6f0"/>
<rect x="306.5" y="288.5" width="7.05" height="7.05" fill="#e6b4a2"/>
<rect x="313.5" y="288.5" width="7.05" height="7.05" fill="#eccab8"/>
<rect x="320.5" y="288.5" width="7.05" height="7.05" fill="#e09a85"/>
<rect x="327.5" y="288.5" width="7.05" height="7.05" fill="#ece4e0"/>
<rect x="334.5" y="288.5" width="7.05" height="7.05" fill="#c8d8ea"/>
<rect x="341.5" y="288.5" width="10.05" height="7.05" fill="#d06050"/>
<rect x="261.5" y="295.5" width="10.05" height="7.05" fill="#1d4a90"/>
<rect x="271.5" y="295.5" width="7.05" height="7.05" fill="#4a7ab8"/>
<rect x="278.5" y="295.5" width="7.05" height="7.05" fill="#b5cbe4"/>
<rect x="285.5" y="295.5" width="7.05" height="7.05" fill="#5080c0"/>
<rect x="292.5" y="295.5" width="7.05" height="7.05" fill="#e6eef5"/>
<rect x="299.5" y="295.5" width="7.05" height="7.05" fill="#3f70b5"/>
<rect x="306.5" y="295.5" width="7.05" height="7.05" fill="#2a5aa0"/>
<rect x="313.5" y="295.5" width="7.05" height="7.05" fill="#204f95"/>
<rect x="320.5" y="295.5" width="7.05" height="7.05" fill="#e8b4a0"/>
<rect x="327.5" y="295.5" width="7.05" height="7.05" fill="#e5a592"/>
<rect x="334.5" y="295.5" width="7.05" height="7.05" fill="#e8a48e"/>
<rect x="341.5" y="295.5" width="10.05" height="7.05" fill="#c84038"/>
<rect x="261.5" y="302.5" width="10.05" height="7.05" fill="#d87868"/>
<rect x="271.5" y="302.5" width="7.05" height="7.05" fill="#c0d4ea"/>
<rect x="278.5" y="302.5" width="7.05" height="7.05" fill="#c84038"/>
<rect x="285.5" y="302.5" width="7.05" height="7.05" fill="#e0a090"/>
<rect x="292.5" y="302.5" width="7.05" height="7.05" fill="#ececec"/>
<rect x="299.5" y="302.5" width="7.05" height="7.05" fill="#a8c2e2"/>
<rect x="306.5" y="302.5" width="7.05" height="7.05" fill="#2a5ca5"/>
<rect x="313.5" y="302.5" width="7.05" height="7.05" fill="#4a7cbc"/>
<rect x="320.5" y="302.5" width="7.05" height="7.05" fill="#e8e8e8"/>
<rect x="327.5" y="302.5" width="7.05" height="7.05" fill="#d0584a"/>
<rect x="334.5" y="302.5" width="7.05" height="7.05" fill="#c84038"/>
<rect x="341.5" y="302.5" width="10.05" height="7.05" fill="#c84038"/>
<rect x="261.5" y="309.5" width="10.05" height="7.05" fill="#c84a40"/>
<rect x="271.5" y="309.5" width="7.05" height="7.05" fill="#e2a896"/>
<rect x="278.5" y="309.5" width="7.05" height="7.05" fill="#c83c34"/>
<rect x="285.5" y="309.5" width="7.05" height="7.05" fill="#c84038"/>
<rect x="292.5" y="309.5" width="7.05" height="7.05" fill="#e8b8a5"/>
<rect x="299.5" y="309.5" width="7.05" height="7.05" fill="#eeeeee"/>
<rect x="306.5" y="309.5" width="7.05" height="7.05" fill="#b8cde6"/>
<rect x="313.5" y="309.5" width="7.05" height="7.05" fill="#eed8cc"/>
<rect x="320.5" y="309.5" width="7.05" height="7.05" fill="#e6a995"/>
<rect x="327.5" y="309.5" width="7.05" height="7.05" fill="#e09580"/>
<rect x="334.5" y="309.5" width="7.05" height="7.05" fill="#d0604f"/>
<rect x="341.5" y="309.5" width="10.05" height="7.05" fill="#d0604f"/>
<rect x="261.5" y="316.5" width="10.05" height="7.05" fill="#c84a40"/>
<rect x="271.5" y="316.5" width="7.05" height="7.05" fill="#e2a896"/>
<rect x="278.5" y="316.5" width="7.05" height="7.05" fill="#c83c34"/>
<rect x="285.5" y="316.5" width="7.05" height="7.05" fill="#e8e8ea"/>
<rect x="292.5" y="316.5" width="7.05" height="7.05" fill="#bcd0e8"/>
<rect x="299.5" y="316.5" width="7.05" height="7.05" fill="#d05a4a"/>
<rect x="306.5" y="316.5" width="7.05" height="7.05" fill="#e8b09c"/>
<rect x="313.5" y="316.5" width="7.05" height="7.05" fill="#e8b09c"/>
<rect x="320.5" y="316.5" width="7.05" height="7.05" fill="#e6a995"/>
<rect x="327.5" y="316.5" width="7.05" height="7.05" fill="#e09580"/>
<rect x="334.5" y="316.5" width="7.05" height="7.05" fill="#d0604f"/>
<rect x="341.5" y="316.5" width="10.05" height="7.05" fill="#d0604f"/>
<rect x="261.5" y="323.5" width="10.05" height="10.05" fill="#c84a40"/>
<rect x="271.5" y="323.5" width="7.05" height="10.05" fill="#c84a40"/>
<rect x="278.5" y="323.5" width="7.05" height="10.05" fill="#c83c34"/>
<rect x="285.5" y="323.5" width="7.05" height="10.05" fill="#c84038"/>
<rect x="292.5" y="323.5" width="7.05" height="10.05" fill="#c84038"/>
<rect x="299.5" y="323.5" width="7.05" height="10.05" fill="#e8e8e8"/>
<rect x="306.5" y="323.5" width="7.05" height="10.05" fill="#e8b09c"/>
<rect x="313.5" y="323.5" width="7.05" height="10.05" fill="#e8b09c"/>
<rect x="320.5" y="323.5" width="7.05" height="10.05" fill="#e6a995"/>
<rect x="327.5" y="323.5" width="7.05" height="10.05" fill="#e09580"/>
<rect x="334.5" y="323.5" width="7.05" height="10.05" fill="#d0604f"/>
<rect x="341.5" y="323.5" width="10.05" height="10.05" fill="#d0604f"/>
</g>
</g>
<g filter="url(#lit2)" style="mix-blend-mode:multiply" opacity="1.0">
<path d="M265.50,301.90 C265.67,299.38 265.78,296.83 266.80,293.90 C267.82,290.97 269.45,286.98 271.60,284.30 C273.75,281.62 276.75,279.55 279.70,277.80 C282.65,276.05 285.57,274.87 289.30,273.80 C293.03,272.73 297.82,271.85 302.10,271.40 C306.38,270.95 310.98,270.70 315.00,271.10 C319.02,271.50 322.98,272.40 326.20,273.80 C329.42,275.20 331.88,276.95 334.30,279.50 C336.72,282.05 338.97,285.90 340.70,289.10 C342.43,292.30 343.90,296.03 344.70,298.70 C345.50,301.37 345.92,303.13 345.50,305.10 C345.08,307.07 343.85,308.93 342.20,310.50 C340.55,312.07 338.02,313.62 335.60,314.50 C333.18,315.38 330.77,314.93 327.70,315.80 C324.63,316.67 320.70,318.28 317.20,319.70 C313.70,321.12 309.55,323.10 306.70,324.30 C303.85,325.50 302.30,326.57 300.10,326.90 C297.90,327.23 295.25,327.07 293.50,326.30 C291.75,325.53 290.38,323.58 289.60,322.30 C288.82,321.02 290.07,319.32 288.80,318.60 C287.53,317.88 284.28,318.18 282.00,318.00 C279.72,317.82 277.55,318.13 275.10,317.50 C272.65,316.87 268.85,315.62 267.30,314.20 C265.75,312.78 266.10,311.05 265.80,309.00 C265.50,306.95 265.33,304.42 265.50,301.90Z" fill="#ff0000"/>
<path d="M292.00,281.00 C292.50,282.67 294.87,287.17 295.00,291.00 C295.13,294.83 293.17,301.83 292.80,304.00" fill="none" stroke="rgb(117,0,0)" stroke-width="3.6999999999999997" stroke-linecap="round" stroke-linejoin="round"/>
<path d="M299.20,276.60 C299.80,279.25 302.20,289.85 302.80,292.50" fill="none" stroke="rgb(117,0,0)" stroke-width="3.6" stroke-linecap="round" stroke-linejoin="round"/>
<path d="M292.80,304.00 C295.92,303.27 306.23,301.28 311.50,299.60 C316.77,297.92 322.25,294.85 324.40,293.90" fill="none" stroke="rgb(117,0,0)" stroke-width="3.8" stroke-linecap="round" stroke-linejoin="round"/>
<path d="M297.00,311.00 C301.08,309.83 315.50,306.37 321.50,304.00 C327.50,301.63 331.08,298.00 333.00,296.80" fill="none" stroke="rgb(117,0,0)" stroke-width="3.6" stroke-linecap="round" stroke-linejoin="round"/>
<path d="M289.00,322.00 C290.83,321.33 295.67,319.33 300.00,318.00 C304.33,316.67 310.00,315.00 315.00,314.00 C320.00,313.00 327.50,312.33 330.00,312.00" fill="none" stroke="rgb(117,0,0)" stroke-width="2.9" stroke-linecap="round" stroke-linejoin="round"/>
</g>
</g>
<defs><clipPath id="bc6"><path d="M352.80,301.90 C353.00,298.85 353.58,294.17 355.20,290.70 C356.82,287.23 359.42,283.92 362.50,281.10 C365.58,278.28 369.70,275.47 373.70,273.80 C377.70,272.13 381.95,271.45 386.50,271.10 C391.05,270.75 396.45,270.98 401.00,271.70 C405.55,272.42 410.05,273.57 413.80,275.40 C417.55,277.23 420.82,279.88 423.50,282.70 C426.18,285.52 428.43,289.10 429.90,292.30 C431.37,295.50 432.03,299.12 432.30,301.90 C432.57,304.68 432.08,306.90 431.50,309.00 C430.92,311.10 430.33,313.15 428.80,314.50 C427.27,315.85 425.13,316.88 422.30,317.10 C419.47,317.32 414.22,315.37 411.80,315.80 C409.38,316.23 408.68,318.17 407.80,319.70 C406.92,321.23 407.72,323.65 406.50,325.00 C405.28,326.35 402.68,328.02 400.50,327.80 C398.32,327.58 396.33,325.48 393.40,323.70 C390.47,321.92 386.85,318.53 382.90,317.10 C378.95,315.67 373.85,315.78 369.70,315.10 C365.55,314.42 360.62,314.02 358.00,313.00 C355.38,311.98 354.87,310.85 354.00,309.00 C353.13,307.15 352.60,304.95 352.80,301.90Z"/></clipPath></defs>
<g style="isolation:isolate">
<g clip-path="url(#bc6)">
<g filter="url(#gb)">
<rect x="347.5" y="264.5" width="10.05" height="10.05" fill="#6090c8"/>
<rect x="357.5" y="264.5" width="7.05" height="10.05" fill="#6090c8"/>
<rect x="364.5" y="264.5" width="7.05" height="10.05" fill="#3a6aae"/>
<rect x="371.5" y="264.5" width="7.05" height="10.05" fill="#2e5ea6"/>
<rect x="378.5" y="264.5" width="7.05" height="10.05" fill="#e0a896"/>
<rect x="385.5" y="264.5" width="7.05" height="10.05" fill="#e0a896"/>
<rect x="392.5" y="264.5" width="7.05" height="10.05" fill="#e8dcd8"/>
<rect x="399.5" y="264.5" width="7.05" height="10.05" fill="#4a7cbc"/>
<rect x="406.5" y="264.5" width="7.05" height="10.05" fill="#3a6cb0"/>
<rect x="413.5" y="264.5" width="7.05" height="10.05" fill="#5585c0"/>
<rect x="420.5" y="264.5" width="7.05" height="10.05" fill="#5585c0"/>
<rect x="427.5" y="264.5" width="10.05" height="10.05" fill="#5585c0"/>
<rect x="347.5" y="274.5" width="10.05" height="7.05" fill="#6090c8"/>
<rect x="357.5" y="274.5" width="7.05" height="7.05" fill="#6090c8"/>
<rect x="364.5" y="274.5" width="7.05" height="7.05" fill="#3a6aae"/>
<rect x="371.5" y="274.5" width="7.05" height="7.05" fill="#2e5ea6"/>
<rect x="378.5" y="274.5" width="7.05" height="7.05" fill="#a8c2e2"/>
<rect x="385.5" y="274.5" width="7.05" height="7.05" fill="#c84a40"/>
<rect x="392.5" y="274.5" width="7.05" height="7.05" fill="#e8b4a4"/>
<rect x="399.5" y="274.5" width="7.05" height="7.05" fill="#4a7cbc"/>
<rect x="406.5" y="274.5" width="7.05" height="7.05" fill="#3a6cb0"/>
<rect x="413.5" y="274.5" width="7.05" height="7.05" fill="#5585c0"/>
<rect x="420.5" y="274.5" width="7.05" height="7.05" fill="#4a7cbc"/>
<rect x="427.5" y="274.5" width="10.05" height="7.05" fill="#4a7cbc"/>
<rect x="347.5" y="281.5" width="10.05" height="7.05" fill="#6090c8"/>
<rect x="357.5" y="281.5" width="7.05" height="7.05" fill="#6090c8"/>
<rect x="364.5" y="281.5" width="7.05" height="7.05" fill="#2a5aa0"/>
<rect x="371.5" y="281.5" width="7.05" height="7.05" fill="#a4bfe0"/>
<rect x="378.5" y="281.5" width="7.05" height="7.05" fill="#5585c2"/>
<rect x="385.5" y="281.5" width="7.05" height="7.05" fill="#c85048"/>
<rect x="392.5" y="281.5" width="7.05" height="7.05" fill="#5a8ac4"/>
<rect x="399.5" y="281.5" width="7.05" height="7.05" fill="#a8c2e2"/>
<rect x="406.5" y="281.5" width="7.05" height="7.05" fill="#4a7cbc"/>
<rect x="413.5" y="281.5" width="7.05" height="7.05" fill="#3a6cb0"/>
<rect x="420.5" y="281.5" width="7.05" height="7.05" fill="#4a7cbc"/>
<rect x="427.5" y="281.5" width="10.05" height="7.05" fill="#4a7cbc"/>
<rect x="347.5" y="288.5" width="10.05" height="7.05" fill="#d8e0ea"/>
<rect x="357.5" y="288.5" width="7.05" height="7.05" fill="#b8cde6"/>
<rect x="364.5" y="288.5" width="7.05" height="7.05" fill="#4a7cbc"/>
<rect x="371.5" y="288.5" width="7.05" height="7.05" fill="#e6ecf2"/>
<rect x="378.5" y="288.5" width="7.05" height="7.05" fill="#5080c0"/>
<rect x="385.5" y="288.5" width="7.05" height="7.05" fill="#e0a08c"/>
<rect x="392.5" y="288.5" width="7.05" height="7.05" fill="#3f70b5"/>
<rect x="399.5" y="288.5" width="7.05" height="7.05" fill="#4a7cbc"/>
<rect x="406.5" y="288.5" width="7.05" height="7.05" fill="#a8c2e2"/>
<rect x="413.5" y="288.5" width="7.05" height="7.05" fill="#3a6cb0"/>
<rect x="420.5" y="288.5" width="7.05" height="7.05" fill="#24549a"/>
<rect x="427.5" y="288.5" width="10.05" height="7.05" fill="#24549a"/>
<rect x="347.5" y="295.5" width="10.05" height="7.05" fill="#c84038"/>
<rect x="357.5" y="295.5" width="7.05" height="7.05" fill="#d8dde6"/>
<rect x="364.5" y="295.5" width="7.05" height="7.05" fill="#5a8ac4"/>
<rect x="371.5" y="295.5" width="7.05" height="7.05" fill="#b8cde6"/>
<rect x="378.5" y="295.5" width="7.05" height="7.05" fill="#7080a0"/>
<rect x="385.5" y="295.5" width="7.05" height="7.05" fill="#e8e8e8"/>
<rect x="392.5" y="295.5" width="7.05" height="7.05" fill="#e8c0b0"/>
<rect x="399.5" y="295.5" width="7.05" height="7.05" fill="#c0d4ea"/>
<rect x="406.5" y="295.5" width="7.05" height="7.05" fill="#4a7cbc"/>
<rect x="413.5" y="295.5" width="7.05" height="7.05" fill="#eeeeee"/>
<rect x="420.5" y="295.5" width="7.05" height="7.05" fill="#3a6cb0"/>
<rect x="427.5" y="295.5" width="10.05" height="7.05" fill="#c84038"/>
<rect x="347.5" y="302.5" width="10.05" height="7.05" fill="#c43a33"/>
<rect x="357.5" y="302.5" width="7.05" height="7.05" fill="#e0a08c"/>
<rect x="364.5" y="302.5" width="7.05" height="7.05" fill="#c84a40"/>
<rect x="371.5" y="302.5" width="7.05" height="7.05" fill="#c8d8ea"/>
<rect x="378.5" y="302.5" width="7.05" height="7.05" fill="#ececec"/>
<rect x="385.5" y="302.5" width="7.05" height="7.05" fill="#b0c8e4"/>
<rect x="392.5" y="302.5" width="7.05" height="7.05" fill="#e8e8e8"/>
<rect x="399.5" y="302.5" width="7.05" height="7.05" fill="#e8b8a5"/>
<rect x="406.5" y="302.5" width="7.05" height="7.05" fill="#c0d4ea"/>
<rect x="413.5" y="302.5" width="7.05" height="7.05" fill="#6a95c8"/>
<rect x="420.5" y="302.5" width="7.05" height="7.05" fill="#4a7cbc"/>
<rect x="427.5" y="302.5" width="10.05" height="7.05" fill="#c84038"/>
<rect x="347.5" y="309.5" width="10.05" height="7.05" fill="#c84038"/>
<rect x="357.5" y="309.5" width="7.05" height="7.05" fill="#d05a4a"/>
<rect x="364.5" y="309.5" width="7.05" height="7.05" fill="#e8c4b4"/>
<rect x="371.5" y="309.5" width="7.05" height="7.05" fill="#e8d0c4"/>
<rect x="378.5" y="309.5" width="7.05" height="7.05" fill="#e8b4a0"/>
<rect x="385.5" y="309.5" width="7.05" height="7.05" fill="#c84038"/>
<rect x="392.5" y="309.5" width="7.05" height="7.05" fill="#e0a08c"/>
<rect x="399.5" y="309.5" width="7.05" height="7.05" fill="#e8dcd8"/>
<rect x="406.5" y="309.5" width="7.05" height="7.05" fill="#e8b8a8"/>
<rect x="413.5" y="309.5" width="7.05" height="7.05" fill="#c8d8ea"/>
<rect x="420.5" y="309.5" width="7.05" height="7.05" fill="#c8d8ea"/>
<rect x="427.5" y="309.5" width="10.05" height="7.05" fill="#c8d8ea"/>
<rect x="347.5" y="316.5" width="10.05" height="7.05" fill="#c84038"/>
<rect x="357.5" y="316.5" width="7.05" height="7.05" fill="#d05a4a"/>
<rect x="364.5" y="316.5" width="7.05" height="7.05" fill="#e8c4b4"/>
<rect x="371.5" y="316.5" width="7.05" height="7.05" fill="#e8d0c4"/>
<rect x="378.5" y="316.5" width="7.05" height="7.05" fill="#e8b4a0"/>
<rect x="385.5" y="316.5" width="7.05" height="7.05" fill="#c43a33"/>
<rect x="392.5" y="316.5" width="7.05" height="7.05" fill="#e8b8a5"/>
<rect x="399.5" y="316.5" width="7.05" height="7.05" fill="#e8e0dc"/>
<rect x="406.5" y="316.5" width="7.05" height="7.05" fill="#e8b8a8"/>
<rect x="413.5" y="316.5" width="7.05" height="7.05" fill="#c8d8ea"/>
<rect x="420.5" y="316.5" width="7.05" height="7.05" fill="#c8d8ea"/>
<rect x="427.5" y="316.5" width="10.05" height="7.05" fill="#c8d8ea"/>
<rect x="347.5" y="323.5" width="10.05" height="10.05" fill="#c84038"/>
<rect x="357.5" y="323.5" width="7.05" height="10.05" fill="#d05a4a"/>
<rect x="364.5" y="323.5" width="7.05" height="10.05" fill="#e8c4b4"/>
<rect x="371.5" y="323.5" width="7.05" height="10.05" fill="#e8d0c4"/>
<rect x="378.5" y="323.5" width="7.05" height="10.05" fill="#e8b4a0"/>
<rect x="385.5" y="323.5" width="7.05" height="10.05" fill="#c43a33"/>
<rect x="392.5" y="323.5" width="7.05" height="10.05" fill="#e8b8a5"/>
<rect x="399.5" y="323.5" width="7.05" height="10.05" fill="#e8e0dc"/>
<rect x="406.5" y="323.5" width="7.05" height="10.05" fill="#e8b8a8"/>
<rect x="413.5" y="323.5" width="7.05" height="10.05" fill="#c8d8ea"/>
<rect x="420.5" y="323.5" width="7.05" height="10.05" fill="#c8d8ea"/>
<rect x="427.5" y="323.5" width="10.05" height="10.05" fill="#c8d8ea"/>
</g>
</g>
<g filter="url(#lit2)" style="mix-blend-mode:multiply" opacity="1.0">
<path d="M352.80,301.90 C353.00,298.85 353.58,294.17 355.20,290.70 C356.82,287.23 359.42,283.92 362.50,281.10 C365.58,278.28 369.70,275.47 373.70,273.80 C377.70,272.13 381.95,271.45 386.50,271.10 C391.05,270.75 396.45,270.98 401.00,271.70 C405.55,272.42 410.05,273.57 413.80,275.40 C417.55,277.23 420.82,279.88 423.50,282.70 C426.18,285.52 428.43,289.10 429.90,292.30 C431.37,295.50 432.03,299.12 432.30,301.90 C432.57,304.68 432.08,306.90 431.50,309.00 C430.92,311.10 430.33,313.15 428.80,314.50 C427.27,315.85 425.13,316.88 422.30,317.10 C419.47,317.32 414.22,315.37 411.80,315.80 C409.38,316.23 408.68,318.17 407.80,319.70 C406.92,321.23 407.72,323.65 406.50,325.00 C405.28,326.35 402.68,328.02 400.50,327.80 C398.32,327.58 396.33,325.48 393.40,323.70 C390.47,321.92 386.85,318.53 382.90,317.10 C378.95,315.67 373.85,315.78 369.70,315.10 C365.55,314.42 360.62,314.02 358.00,313.00 C355.38,311.98 354.87,310.85 354.00,309.00 C353.13,307.15 352.60,304.95 352.80,301.90Z" fill="#ff0000"/>
<path d="M381.60,273.80 C382.33,276.43 385.63,285.53 386.00,289.60 C386.37,293.67 384.17,296.77 383.80,298.20" fill="none" stroke="rgb(117,0,0)" stroke-width="3.6999999999999997" stroke-linecap="round" stroke-linejoin="round"/>
<path d="M375.90,296.80 C378.78,298.00 387.93,303.30 393.20,304.00 C398.47,304.70 405.12,301.50 407.50,301.00" fill="none" stroke="rgb(117,0,0)" stroke-width="3.8" stroke-linecap="round" stroke-linejoin="round"/>
<path d="M371.60,306.80 C375.20,307.53 386.73,310.95 393.20,311.20 C399.67,311.45 407.53,308.78 410.40,308.30" fill="none" stroke="rgb(117,0,0)" stroke-width="3.6" stroke-linecap="round" stroke-linejoin="round"/>
<path d="M393.20,286.70 C395.58,288.13 405.12,293.87 407.50,295.30" fill="none" stroke="rgb(117,0,0)" stroke-width="3.6" stroke-linecap="round" stroke-linejoin="round"/>
<path d="M380.00,316.00 C382.50,316.33 390.83,318.00 395.00,318.00 C399.17,318.00 403.33,316.33 405.00,316.00" fill="none" stroke="rgb(117,0,0)" stroke-width="2.9" stroke-linecap="round" stroke-linejoin="round"/>
</g>
</g>
<defs><clipPath id="bc7"><path d="M265.20,364.90 C265.60,362.48 266.80,358.50 268.40,355.30 C270.00,352.10 272.12,348.52 274.80,345.70 C277.48,342.88 281.28,340.15 284.50,338.40 C287.72,336.65 290.35,335.87 294.10,335.20 C297.85,334.53 302.72,334.27 307.00,334.40 C311.28,334.53 315.78,334.93 319.80,336.00 C323.82,337.07 327.88,338.65 331.10,340.80 C334.32,342.95 336.97,345.68 339.10,348.90 C341.23,352.12 342.97,356.90 343.90,360.10 C344.83,363.30 344.97,365.42 344.70,368.10 C344.43,370.78 343.77,374.32 342.30,376.20 C340.83,378.08 338.58,378.60 335.90,379.40 C333.22,380.20 328.62,380.20 326.20,381.00 C323.78,381.80 322.47,382.87 321.40,384.20 C320.33,385.53 320.87,388.07 319.80,389.00 C318.73,389.93 316.60,390.33 315.00,389.80 C313.40,389.27 312.35,387.53 310.20,385.80 C308.05,384.07 305.32,381.00 302.10,379.40 C298.88,377.80 294.90,377.00 290.90,376.20 C286.90,375.40 281.58,375.13 278.10,374.60 C274.62,374.07 272.02,373.80 270.00,373.00 C267.98,372.20 266.80,371.15 266.00,369.80 C265.20,368.45 264.80,367.32 265.20,364.90Z"/></clipPath></defs>
<g style="isolation:isolate">
<g clip-path="url(#bc7)">
<g filter="url(#gb)">
<rect x="261.5" y="327.5" width="10.05" height="10.05" fill="#e8eaee"/>
<rect x="271.5" y="327.5" width="7.05" height="10.05" fill="#e8eaee"/>
<rect x="278.5" y="327.5" width="7.05" height="10.05" fill="#e8eaee"/>
<rect x="285.5" y="327.5" width="7.05" height="10.05" fill="#a8c2e2"/>
<rect x="292.5" y="327.5" width="7.05" height="10.05" fill="#c8d8ea"/>
<rect x="299.5" y="327.5" width="7.05" height="10.05" fill="#e8eaee"/>
<rect x="306.5" y="327.5" width="7.05" height="10.05" fill="#3f70b5"/>
<rect x="313.5" y="327.5" width="7.05" height="10.05" fill="#2a5aa0"/>
<rect x="320.5" y="327.5" width="7.05" height="10.05" fill="#1d4a90"/>
<rect x="327.5" y="327.5" width="7.05" height="10.05" fill="#d05a4a"/>
<rect x="334.5" y="327.5" width="7.05" height="10.05" fill="#d05a4a"/>
<rect x="341.5" y="327.5" width="10.05" height="10.05" fill="#d05a4a"/>
<rect x="261.5" y="337.5" width="10.05" height="7.05" fill="#e8eaee"/>
<rect x="271.5" y="337.5" width="7.05" height="7.05" fill="#e8eaee"/>
<rect x="278.5" y="337.5" width="7.05" height="7.05" fill="#e8eaee"/>
<rect x="285.5" y="337.5" width="7.05" height="7.05" fill="#a8c2e2"/>
<rect x="292.5" y="337.5" width="7.05" height="7.05" fill="#e0e6ee"/>
<rect x="299.5" y="337.5" width="7.05" height="7.05" fill="#b83030"/>
<rect x="306.5" y="337.5" width="7.05" height="7.05" fill="#2a5aa0"/>
<rect x="313.5" y="337.5" width="7.05" height="7.05" fill="#1d4a90"/>
<rect x="320.5" y="337.5" width="7.05" height="7.05" fill="#1d4a90"/>
<rect x="327.5" y="337.5" width="7.05" height="7.05" fill="#d05a4a"/>
<rect x="334.5" y="337.5" width="7.05" height="7.05" fill="#d8dde8"/>
<rect x="341.5" y="337.5" width="10.05" height="7.05" fill="#d8dde8"/>
<rect x="261.5" y="344.5" width="10.05" height="7.05" fill="#dde4ee"/>
<rect x="271.5" y="344.5" width="7.05" height="7.05" fill="#dde4ee"/>
<rect x="278.5" y="344.5" width="7.05" height="7.05" fill="#4a7cbc"/>
<rect x="285.5" y="344.5" width="7.05" height="7.05" fill="#5585c2"/>
<rect x="292.5" y="344.5" width="7.05" height="7.05" fill="#e8e8ea"/>
<rect x="299.5" y="344.5" width="7.05" height="7.05" fill="#e6b09c"/>
<rect x="306.5" y="344.5" width="7.05" height="7.05" fill="#a8c2e2"/>
<rect x="313.5" y="344.5" width="7.05" height="7.05" fill="#4a7cbc"/>
<rect x="320.5" y="344.5" width="7.05" height="7.05" fill="#1d4a90"/>
<rect x="327.5" y="344.5" width="7.05" height="7.05" fill="#e8e8ea"/>
<rect x="334.5" y="344.5" width="7.05" height="7.05" fill="#d8dde8"/>
<rect x="341.5" y="344.5" width="10.05" height="7.05" fill="#d8dde8"/>
<rect x="261.5" y="351.5" width="10.05" height="7.05" fill="#6a95c8"/>
<rect x="271.5" y="351.5" width="7.05" height="7.05" fill="#6a95c8"/>
<rect x="278.5" y="351.5" width="7.05" height="7.05" fill="#b0c8e4"/>
<rect x="285.5" y="351.5" width="7.05" height="7.05" fill="#e0a890"/>
<rect x="292.5" y="351.5" width="7.05" height="7.05" fill="#e5a08a"/>
<rect x="299.5" y="351.5" width="7.05" height="7.05" fill="#e8d0c4"/>
<rect x="306.5" y="351.5" width="7.05" height="7.05" fill="#ececec"/>
<rect x="313.5" y="351.5" width="7.05" height="7.05" fill="#4a7cbc"/>
<rect x="320.5" y="351.5" width="7.05" height="7.05" fill="#2a5aa0"/>
<rect x="327.5" y="351.5" width="7.05" height="7.05" fill="#b8cde6"/>
<rect x="334.5" y="351.5" width="7.05" height="7.05" fill="#a8c2e2"/>
<rect x="341.5" y="351.5" width="10.05" height="7.05" fill="#c84a40"/>
<rect x="261.5" y="358.5" width="10.05" height="7.05" fill="#e09a85"/>
<rect x="271.5" y="358.5" width="7.05" height="7.05" fill="#e2b0a0"/>
<rect x="278.5" y="358.5" width="7.05" height="7.05" fill="#ececec"/>
<rect x="285.5" y="358.5" width="7.05" height="7.05" fill="#e8e8e8"/>
<rect x="292.5" y="358.5" width="7.05" height="7.05" fill="#eaeaea"/>
<rect x="299.5" y="358.5" width="7.05" height="7.05" fill="#e59c84"/>
<rect x="306.5" y="358.5" width="7.05" height="7.05" fill="#ecc6b6"/>
<rect x="313.5" y="358.5" width="7.05" height="7.05" fill="#e8e8e8"/>
<rect x="320.5" y="358.5" width="7.05" height="7.05" fill="#c8d8ea"/>
<rect x="327.5" y="358.5" width="7.05" height="7.05" fill="#a8c2e2"/>
<rect x="334.5" y="358.5" width="7.05" height="7.05" fill="#a0bce0"/>
<rect x="341.5" y="358.5" width="10.05" height="7.05" fill="#c84a40"/>
<rect x="261.5" y="365.5" width="10.05" height="7.05" fill="#c84a40"/>
<rect x="271.5" y="365.5" width="7.05" height="7.05" fill="#cc4a40"/>
<rect x="278.5" y="365.5" width="7.05" height="7.05" fill="#e0a090"/>
<rect x="285.5" y="365.5" width="7.05" height="7.05" fill="#e6e6e6"/>
<rect x="292.5" y="365.5" width="7.05" height="7.05" fill="#e8e8e8"/>
<rect x="299.5" y="365.5" width="7.05" height="7.05" fill="#ecbca8"/>
<rect x="306.5" y="365.5" width="7.05" height="7.05" fill="#ececec"/>
<rect x="313.5" y="365.5" width="7.05" height="7.05" fill="#e8eaee"/>
<rect x="320.5" y="365.5" width="7.05" height="7.05" fill="#b8cde6"/>
<rect x="327.5" y="365.5" width="7.05" height="7.05" fill="#c0d4ea"/>
<rect x="334.5" y="365.5" width="7.05" height="7.05" fill="#e0e6ee"/>
<rect x="341.5" y="365.5" width="10.05" height="7.05" fill="#c84038"/>
<rect x="261.5" y="372.5" width="10.05" height="7.05" fill="#c84038"/>
<rect x="271.5" y="372.5" width="7.05" height="7.05" fill="#c43a33"/>
<rect x="278.5" y="372.5" width="7.05" height="7.05" fill="#e8c4b4"/>
<rect x="285.5" y="372.5" width="7.05" height="7.05" fill="#e8b09c"/>
<rect x="292.5" y="372.5" width="7.05" height="7.05" fill="#d05a4a"/>
<rect x="299.5" y="372.5" width="7.05" height="7.05" fill="#c84038"/>
<rect x="306.5" y="372.5" width="7.05" height="7.05" fill="#e8e8e8"/>
<rect x="313.5" y="372.5" width="7.05" height="7.05" fill="#c0d4ea"/>
<rect x="320.5" y="372.5" width="7.05" height="7.05" fill="#e6ebf2"/>
<rect x="327.5" y="372.5" width="7.05" height="7.05" fill="#e8e8e8"/>
<rect x="334.5" y="372.5" width="7.05" height="7.05" fill="#eeeeee"/>
<rect x="341.5" y="372.5" width="10.05" height="7.05" fill="#c84038"/>
<rect x="261.5" y="379.5" width="10.05" height="7.05" fill="#c84038"/>
<rect x="271.5" y="379.5" width="7.05" height="7.05" fill="#c43a33"/>
<rect x="278.5" y="379.5" width="7.05" height="7.05" fill="#e8c4b4"/>
<rect x="285.5" y="379.5" width="7.05" height="7.05" fill="#e8b09c"/>
<rect x="292.5" y="379.5" width="7.05" height="7.05" fill="#d05a4a"/>
<rect x="299.5" y="379.5" width="7.05" height="7.05" fill="#c84038"/>
<rect x="306.5" y="379.5" width="7.05" height="7.05" fill="#c43a33"/>
<rect x="313.5" y="379.5" width="7.05" height="7.05" fill="#4a7cbc"/>
<rect x="320.5" y="379.5" width="7.05" height="7.05" fill="#e6ebf2"/>
<rect x="327.5" y="379.5" width="7.05" height="7.05" fill="#e8e8e8"/>
<rect x="334.5" y="379.5" width="7.05" height="7.05" fill="#eeeeee"/>
<rect x="341.5" y="379.5" width="10.05" height="7.05" fill="#eeeeee"/>
<rect x="261.5" y="386.5" width="10.05" height="10.05" fill="#c84038"/>
<rect x="271.5" y="386.5" width="7.05" height="10.05" fill="#c43a33"/>
<rect x="278.5" y="386.5" width="7.05" height="10.05" fill="#e8c4b4"/>
<rect x="285.5" y="386.5" width="7.05" height="10.05" fill="#e8b09c"/>
<rect x="292.5" y="386.5" width="7.05" height="10.05" fill="#d05a4a"/>
<rect x="299.5" y="386.5" width="7.05" height="10.05" fill="#c84038"/>
<rect x="306.5" y="386.5" width="7.05" height="10.05" fill="#c43a33"/>
<rect x="313.5" y="386.5" width="7.05" height="10.05" fill="#4a7cbc"/>
<rect x="320.5" y="386.5" width="7.05" height="10.05" fill="#e6ebf2"/>
<rect x="327.5" y="386.5" width="7.05" height="10.05" fill="#e8e8e8"/>
<rect x="334.5" y="386.5" width="7.05" height="10.05" fill="#eeeeee"/>
<rect x="341.5" y="386.5" width="10.05" height="10.05" fill="#eeeeee"/>
</g>
</g>
<g filter="url(#lit2)" style="mix-blend-mode:multiply" opacity="1.0">
<path d="M265.20,364.90 C265.60,362.48 266.80,358.50 268.40,355.30 C270.00,352.10 272.12,348.52 274.80,345.70 C277.48,342.88 281.28,340.15 284.50,338.40 C287.72,336.65 290.35,335.87 294.10,335.20 C297.85,334.53 302.72,334.27 307.00,334.40 C311.28,334.53 315.78,334.93 319.80,336.00 C323.82,337.07 327.88,338.65 331.10,340.80 C334.32,342.95 336.97,345.68 339.10,348.90 C341.23,352.12 342.97,356.90 343.90,360.10 C344.83,363.30 344.97,365.42 344.70,368.10 C344.43,370.78 343.77,374.32 342.30,376.20 C340.83,378.08 338.58,378.60 335.90,379.40 C333.22,380.20 328.62,380.20 326.20,381.00 C323.78,381.80 322.47,382.87 321.40,384.20 C320.33,385.53 320.87,388.07 319.80,389.00 C318.73,389.93 316.60,390.33 315.00,389.80 C313.40,389.27 312.35,387.53 310.20,385.80 C308.05,384.07 305.32,381.00 302.10,379.40 C298.88,377.80 294.90,377.00 290.90,376.20 C286.90,375.40 281.58,375.13 278.10,374.60 C274.62,374.07 272.02,373.80 270.00,373.00 C267.98,372.20 266.80,371.15 266.00,369.80 C265.20,368.45 264.80,367.32 265.20,364.90Z" fill="#ff0000"/>
<path d="M282.70,364.10 C284.38,362.67 287.53,357.42 292.80,355.50 C298.07,353.58 307.83,351.88 314.30,352.60 C320.77,353.32 328.48,356.93 331.60,359.80 C334.72,362.67 332.77,368.13 333.00,369.80" fill="none" stroke="rgb(117,0,0)" stroke-width="3.6999999999999997" stroke-linecap="round" stroke-linejoin="round"/>
<path d="M278.40,345.40 C279.35,347.80 283.15,357.40 284.10,359.80" fill="none" stroke="rgb(117,0,0)" stroke-width="3.8" stroke-linecap="round" stroke-linejoin="round"/>
<path d="M285.60,371.30 C290.38,372.50 309.52,377.30 314.30,378.50" fill="none" stroke="rgb(117,0,0)" stroke-width="3.8" stroke-linecap="round" stroke-linejoin="round"/>
</g>
</g>
<defs><clipPath id="bc8"><path d="M352.80,366.50 C352.93,363.82 353.58,360.37 355.20,356.90 C356.82,353.43 359.42,348.78 362.50,345.70 C365.58,342.62 369.43,340.15 373.70,338.40 C377.97,336.65 383.55,335.87 388.10,335.20 C392.65,334.53 396.98,334.13 401.00,334.40 C405.02,334.67 408.72,335.18 412.20,336.80 C415.68,338.42 419.22,341.28 421.90,344.10 C424.58,346.92 426.70,350.50 428.30,353.70 C429.90,356.90 431.10,360.35 431.50,363.30 C431.90,366.25 431.50,369.25 430.70,371.40 C429.90,373.55 429.25,375.27 426.70,376.20 C424.15,377.13 419.15,376.73 415.40,377.00 C411.65,377.27 407.67,377.40 404.20,377.80 C400.73,378.20 397.28,378.60 394.60,379.40 C391.92,380.20 389.98,381.40 388.10,382.60 C386.22,383.80 384.90,385.80 383.30,386.60 C381.70,387.40 379.62,387.93 378.50,387.40 C377.38,386.87 377.67,384.87 376.60,383.40 C375.53,381.93 374.73,379.80 372.10,378.60 C369.47,377.40 363.75,377.13 360.80,376.20 C357.85,375.27 355.73,374.62 354.40,373.00 C353.07,371.38 352.67,369.18 352.80,366.50Z"/></clipPath></defs>
<g style="isolation:isolate">
<g clip-path="url(#bc8)">
<g filter="url(#gb)">
<rect x="347.5" y="327.5" width="10.05" height="10.05" fill="#4a7cbc"/>
<rect x="357.5" y="327.5" width="7.05" height="10.05" fill="#4a7cbc"/>
<rect x="364.5" y="327.5" width="7.05" height="10.05" fill="#2a5aa0"/>
<rect x="371.5" y="327.5" width="7.05" height="10.05" fill="#1d4a90"/>
<rect x="378.5" y="327.5" width="7.05" height="10.05" fill="#3f70b5"/>
<rect x="385.5" y="327.5" width="7.05" height="10.05" fill="#e8c0b0"/>
<rect x="392.5" y="327.5" width="7.05" height="10.05" fill="#e8b09c"/>
<rect x="399.5" y="327.5" width="7.05" height="10.05" fill="#e8b8a8"/>
<rect x="406.5" y="327.5" width="7.05" height="10.05" fill="#e8b8a8"/>
<rect x="413.5" y="327.5" width="7.05" height="10.05" fill="#e8b8a8"/>
<rect x="420.5" y="327.5" width="7.05" height="10.05" fill="#e8b8a8"/>
<rect x="427.5" y="327.5" width="10.05" height="10.05" fill="#e8b8a8"/>
<rect x="347.5" y="337.5" width="10.05" height="7.05" fill="#dde4ee"/>
<rect x="357.5" y="337.5" width="7.05" height="7.05" fill="#b8cde6"/>
<rect x="364.5" y="337.5" width="7.05" height="7.05" fill="#1d4a90"/>
<rect x="371.5" y="337.5" width="7.05" height="7.05" fill="#1a4080"/>
<rect x="378.5" y="337.5" width="7.05" height="7.05" fill="#2a5aa0"/>
<rect x="385.5" y="337.5" width="7.05" height="7.05" fill="#b8cde6"/>
<rect x="392.5" y="337.5" width="7.05" height="7.05" fill="#c84038"/>
<rect x="399.5" y="337.5" width="7.05" height="7.05" fill="#dde4ee"/>
<rect x="406.5" y="337.5" width="7.05" height="7.05" fill="#e8b09c"/>
<rect x="413.5" y="337.5" width="7.05" height="7.05" fill="#e8b8a8"/>
<rect x="420.5" y="337.5" width="7.05" height="7.05" fill="#e8b8a8"/>
<rect x="427.5" y="337.5" width="10.05" height="7.05" fill="#e8b8a8"/>
<rect x="347.5" y="344.5" width="10.05" height="7.05" fill="#dde4ee"/>
<rect x="357.5" y="344.5" width="7.05" height="7.05" fill="#a8c2e2"/>
<rect x="364.5" y="344.5" width="7.05" height="7.05" fill="#1a4080"/>
<rect x="371.5" y="344.5" width="7.05" height="7.05" fill="#1a4080"/>
<rect x="378.5" y="344.5" width="7.05" height="7.05" fill="#6a95c8"/>
<rect x="385.5" y="344.5" width="7.05" height="7.05" fill="#e0a08c"/>
<rect x="392.5" y="344.5" width="7.05" height="7.05" fill="#e8b09c"/>
<rect x="399.5" y="344.5" width="7.05" height="7.05" fill="#a8c2e2"/>
<rect x="406.5" y="344.5" width="7.05" height="7.05" fill="#dde6f0"/>
<rect x="413.5" y="344.5" width="7.05" height="7.05" fill="#b8cde6"/>
<rect x="420.5" y="344.5" width="7.05" height="7.05" fill="#e09a85"/>
<rect x="427.5" y="344.5" width="10.05" height="7.05" fill="#e09a85"/>
<rect x="347.5" y="351.5" width="10.05" height="7.05" fill="#e0e6ee"/>
<rect x="357.5" y="351.5" width="7.05" height="7.05" fill="#b0c8e4"/>
<rect x="364.5" y="351.5" width="7.05" height="7.05" fill="#2a5aa0"/>
<rect x="371.5" y="351.5" width="7.05" height="7.05" fill="#2a5aa0"/>
<rect x="378.5" y="351.5" width="7.05" height="7.05" fill="#dde4ee"/>
<rect x="385.5" y="351.5" width="7.05" height="7.05" fill="#ececec"/>
<rect x="392.5" y="351.5" width="7.05" height="7.05" fill="#a8c2e2"/>
<rect x="399.5" y="351.5" width="7.05" height="7.05" fill="#5585c2"/>
<rect x="406.5" y="351.5" width="7.05" height="7.05" fill="#b0c8e4"/>
<rect x="413.5" y="351.5" width="7.05" height="7.05" fill="#b8cde6"/>
<rect x="420.5" y="351.5" width="7.05" height="7.05" fill="#e09a85"/>
<rect x="427.5" y="351.5" width="10.05" height="7.05" fill="#d05a4a"/>
<rect x="347.5" y="358.5" width="10.05" height="7.05" fill="#c84038"/>
<rect x="357.5" y="358.5" width="7.05" height="7.05" fill="#3f70b5"/>
<rect x="364.5" y="358.5" width="7.05" height="7.05" fill="#5585c2"/>
<rect x="371.5" y="358.5" width="7.05" height="7.05" fill="#eeeeee"/>
<rect x="378.5" y="358.5" width="7.05" height="7.05" fill="#ececec"/>
<rect x="385.5" y="358.5" width="7.05" height="7.05" fill="#e8a890"/>
<rect x="392.5" y="358.5" width="7.05" height="7.05" fill="#eeeeee"/>
<rect x="399.5" y="358.5" width="7.05" height="7.05" fill="#a8c2e2"/>
<rect x="406.5" y="358.5" width="7.05" height="7.05" fill="#4a7cbc"/>
<rect x="413.5" y="358.5" width="7.05" height="7.05" fill="#e09a85"/>
<rect x="420.5" y="358.5" width="7.05" height="7.05" fill="#c84a40"/>
<rect x="427.5" y="358.5" width="10.05" height="7.05" fill="#d05a4a"/>
<rect x="347.5" y="365.5" width="10.05" height="7.05" fill="#c43a33"/>
<rect x="357.5" y="365.5" width="7.05" height="7.05" fill="#3f70b5"/>
<rect x="364.5" y="365.5" width="7.05" height="7.05" fill="#b0c8e4"/>
<rect x="371.5" y="365.5" width="7.05" height="7.05" fill="#eeeeee"/>
<rect x="378.5" y="365.5" width="7.05" height="7.05" fill="#ececec"/>
<rect x="385.5" y="365.5" width="7.05" height="7.05" fill="#e8e8e8"/>
<rect x="392.5" y="365.5" width="7.05" height="7.05" fill="#ececec"/>
<rect x="399.5" y="365.5" width="7.05" height="7.05" fill="#4a7cbc"/>
<rect x="406.5" y="365.5" width="7.05" height="7.05" fill="#e8e8e8"/>
<rect x="413.5" y="365.5" width="7.05" height="7.05" fill="#e5a592"/>
<rect x="420.5" y="365.5" width="7.05" height="7.05" fill="#c84038"/>
<rect x="427.5" y="365.5" width="10.05" height="7.05" fill="#c84038"/>
<rect x="347.5" y="372.5" width="10.05" height="7.05" fill="#c43a33"/>
<rect x="357.5" y="372.5" width="7.05" height="7.05" fill="#e0e6ee"/>
<rect x="364.5" y="372.5" width="7.05" height="7.05" fill="#e8e8e8"/>
<rect x="371.5" y="372.5" width="7.05" height="7.05" fill="#e6e6e6"/>
<rect x="378.5" y="372.5" width="7.05" height="7.05" fill="#e8b8a8"/>
<rect x="385.5" y="372.5" width="7.05" height="7.05" fill="#d05a4a"/>
<rect x="392.5" y="372.5" width="7.05" height="7.05" fill="#e0a08c"/>
<rect x="399.5" y="372.5" width="7.05" height="7.05" fill="#e8e8e8"/>
<rect x="406.5" y="372.5" width="7.05" height="7.05" fill="#e8dcd8"/>
<rect x="413.5" y="372.5" width="7.05" height="7.05" fill="#e8b8a8"/>
<rect x="420.5" y="372.5" width="7.05" height="7.05" fill="#e8e8e8"/>
<rect x="427.5" y="372.5" width="10.05" height="7.05" fill="#e8e8e8"/>
<rect x="347.5" y="379.5" width="10.05" height="7.05" fill="#c43a33"/>
<rect x="357.5" y="379.5" width="7.05" height="7.05" fill="#e0e6ee"/>
<rect x="364.5" y="379.5" width="7.05" height="7.05" fill="#e8e8e8"/>
<rect x="371.5" y="379.5" width="7.05" height="7.05" fill="#c84038"/>
<rect x="378.5" y="379.5" width="7.05" height="7.05" fill="#c84038"/>
<rect x="385.5" y="379.5" width="7.05" height="7.05" fill="#c43a33"/>
<rect x="392.5" y="379.5" width="7.05" height="7.05" fill="#e8b09c"/>
<rect x="399.5" y="379.5" width="7.05" height="7.05" fill="#e8e8e8"/>
<rect x="406.5" y="379.5" width="7.05" height="7.05" fill="#e8dcd8"/>
<rect x="413.5" y="379.5" width="7.05" height="7.05" fill="#e8b8a8"/>
<rect x="420.5" y="379.5" width="7.05" height="7.05" fill="#e8e8e8"/>
<rect x="427.5" y="379.5" width="10.05" height="7.05" fill="#e8e8e8"/>
<rect x="347.5" y="386.5" width="10.05" height="10.05" fill="#c43a33"/>
<rect x="357.5" y="386.5" width="7.05" height="10.05" fill="#e0e6ee"/>
<rect x="364.5" y="386.5" width="7.05" height="10.05" fill="#e8e8e8"/>
<rect x="371.5" y="386.5" width="7.05" height="10.05" fill="#c84038"/>
<rect x="378.5" y="386.5" width="7.05" height="10.05" fill="#c84038"/>
<rect x="385.5" y="386.5" width="7.05" height="10.05" fill="#c43a33"/>
<rect x="392.5" y="386.5" width="7.05" height="10.05" fill="#e8b09c"/>
<rect x="399.5" y="386.5" width="7.05" height="10.05" fill="#e8e8e8"/>
<rect x="406.5" y="386.5" width="7.05" height="10.05" fill="#e8dcd8"/>
<rect x="413.5" y="386.5" width="7.05" height="10.05" fill="#e8b8a8"/>
<rect x="420.5" y="386.5" width="7.05" height="10.05" fill="#e8e8e8"/>
<rect x="427.5" y="386.5" width="10.05" height="10.05" fill="#e8e8e8"/>
</g>
</g>
<g filter="url(#lit2)" style="mix-blend-mode:multiply" opacity="1.0">
<path d="M352.80,366.50 C352.93,363.82 353.58,360.37 355.20,356.90 C356.82,353.43 359.42,348.78 362.50,345.70 C365.58,342.62 369.43,340.15 373.70,338.40 C377.97,336.65 383.55,335.87 388.10,335.20 C392.65,334.53 396.98,334.13 401.00,334.40 C405.02,334.67 408.72,335.18 412.20,336.80 C415.68,338.42 419.22,341.28 421.90,344.10 C424.58,346.92 426.70,350.50 428.30,353.70 C429.90,356.90 431.10,360.35 431.50,363.30 C431.90,366.25 431.50,369.25 430.70,371.40 C429.90,373.55 429.25,375.27 426.70,376.20 C424.15,377.13 419.15,376.73 415.40,377.00 C411.65,377.27 407.67,377.40 404.20,377.80 C400.73,378.20 397.28,378.60 394.60,379.40 C391.92,380.20 389.98,381.40 388.10,382.60 C386.22,383.80 384.90,385.80 383.30,386.60 C381.70,387.40 379.62,387.93 378.50,387.40 C377.38,386.87 377.67,384.87 376.60,383.40 C375.53,381.93 374.73,379.80 372.10,378.60 C369.47,377.40 363.75,377.13 360.80,376.20 C357.85,375.27 355.73,374.62 354.40,373.00 C353.07,371.38 352.67,369.18 352.80,366.50Z" fill="#ff0000"/>
<path d="M364.40,367.00 C366.32,365.08 370.38,357.67 375.90,355.50 C381.42,353.33 391.27,353.28 397.50,354.00 C403.73,354.72 410.18,357.40 413.30,359.80 C416.42,362.20 415.72,366.97 416.20,368.40" fill="none" stroke="rgb(117,0,0)" stroke-width="3.6999999999999997" stroke-linecap="round" stroke-linejoin="round"/>
<path d="M411.90,348.30 C413.08,350.22 417.82,357.88 419.00,359.80" fill="none" stroke="rgb(117,0,0)" stroke-width="3.6" stroke-linecap="round" stroke-linejoin="round"/>
<path d="M378.80,374.20 C383.58,373.95 402.72,372.95 407.50,372.70" fill="none" stroke="rgb(117,0,0)" stroke-width="3.8" stroke-linecap="round" stroke-linejoin="round"/>
</g>
</g>
</svg></body></html>
